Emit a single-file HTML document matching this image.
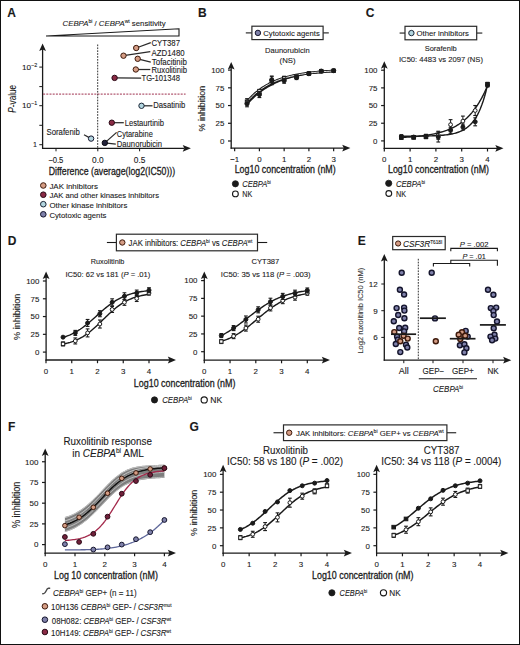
<!DOCTYPE html>
<html><head><meta charset="utf-8"><title>Figure</title>
<style>html,body{margin:0;padding:0;background:#fff;}svg{display:block;}
text{stroke:#1a1a1a;stroke-width:0.1px;}</style></head>
<body><svg width="520" height="645" viewBox="0 0 520 645" font-family='"Liberation Sans", sans-serif' fill="#1a1a1a">
<rect x="0" y="0" width="520" height="645" fill="#fff"/>
<rect x="0.5" y="0.5" width="519" height="644" fill="none" stroke="#111" stroke-width="1.0"/>
<text x="7.2" y="17" font-size="12" font-weight="bold">A</text>
<text x="62.6" y="25.8" font-size="8.05" textLength="103" lengthAdjust="spacingAndGlyphs"><tspan font-style="italic">CEBPA</tspan><tspan baseline-shift="3" font-size="5.2">bi</tspan> / <tspan font-style="italic">CEBPA</tspan><tspan baseline-shift="3" font-size="5.2">wt</tspan> sensitivity</text>
<path d="M46 36 L179 28.8 L179 36 Z" fill="#fff" stroke="#1a1a1a" stroke-width="1.1" stroke-linejoin="miter"/>
<line x1="42.6" y1="148.9" x2="42.6" y2="49" stroke="#1a1a1a" stroke-width="1.3"/>
<path d="M42.6 43.5 L46 51 L42.6 49.4 L39.2 51 Z" fill="#1a1a1a"/>
<line x1="39.3" y1="67.1" x2="42.6" y2="67.1" stroke="#1a1a1a" stroke-width="1"/>
<line x1="39.3" y1="86.6" x2="42.6" y2="86.6" stroke="#1a1a1a" stroke-width="1"/>
<line x1="39.3" y1="105.7" x2="42.6" y2="105.7" stroke="#1a1a1a" stroke-width="1"/>
<line x1="39.3" y1="125.3" x2="42.6" y2="125.3" stroke="#1a1a1a" stroke-width="1"/>
<line x1="39.3" y1="144.7" x2="42.6" y2="144.7" stroke="#1a1a1a" stroke-width="1"/>
<text x="22" y="69.8" font-size="7.95" textLength="15.2" lengthAdjust="spacingAndGlyphs">10<tspan baseline-shift="3.2" font-size="5.2">−2</tspan></text>
<text x="22" y="108.4" font-size="7.95" textLength="15.2" lengthAdjust="spacingAndGlyphs">10<tspan baseline-shift="3.2" font-size="5.2">−1</tspan></text>
<text x="33" y="147.4" font-size="7.95" textLength="4" lengthAdjust="spacingAndGlyphs">1</text>
<text x="0" y="0" font-size="10.0" textLength="27.9" lengthAdjust="spacingAndGlyphs" transform="translate(15.6 112.7) rotate(-90)"><tspan font-style="italic">P</tspan>-value</text>
<line x1="42" y1="148.3" x2="184" y2="148.3" stroke="#1a1a1a" stroke-width="1.3"/>
<path d="M190.9 148.3 L182.7 144.9 L184.3 148.3 L182.7 151.7 Z" fill="#1a1a1a"/>
<line x1="56" y1="148.3" x2="56" y2="151.3" stroke="#1a1a1a" stroke-width="1"/>
<line x1="97.8" y1="148.3" x2="97.8" y2="151.3" stroke="#1a1a1a" stroke-width="1"/>
<line x1="139.6" y1="148.3" x2="139.6" y2="151.3" stroke="#1a1a1a" stroke-width="1"/>
<text x="48.2" y="162.6" font-size="8.6" textLength="15.2" lengthAdjust="spacingAndGlyphs">−0.5</text>
<text x="92" y="162.6" font-size="8.6" textLength="11.6" lengthAdjust="spacingAndGlyphs">0.0</text>
<text x="133.8" y="162.6" font-size="8.6" textLength="11.6" lengthAdjust="spacingAndGlyphs">0.5</text>
<text x="48.8" y="175.3" font-size="11.2" textLength="126.4" lengthAdjust="spacingAndGlyphs" style="stroke-width:0.3px">Difference (average(log2(IC50)))</text>
<line x1="97.7" y1="44.5" x2="97.7" y2="148.3" stroke="#1a1a1a" stroke-width="0.9" stroke-dasharray="1.7 1.2"/>
<line x1="43.1" y1="94.1" x2="185.6" y2="94.1" stroke="#9e2f4e" stroke-width="1.0" stroke-dasharray="2 1.2"/>
<line x1="136.2" y1="48" x2="150.8" y2="42.6" stroke="#2a2a2a" stroke-width="1.25"/>
<line x1="123.5" y1="55.7" x2="150.3" y2="51.6" stroke="#2a2a2a" stroke-width="1.25"/>
<line x1="137.7" y1="58.8" x2="150.8" y2="62.2" stroke="#2a2a2a" stroke-width="1.25"/>
<line x1="135.8" y1="69.5" x2="150.3" y2="69.5" stroke="#2a2a2a" stroke-width="1.25"/>
<line x1="114.6" y1="77.9" x2="141.2" y2="78.2" stroke="#2a2a2a" stroke-width="1.25"/>
<line x1="141.5" y1="105.8" x2="152.5" y2="105.8" stroke="#2a2a2a" stroke-width="1.25"/>
<line x1="111.8" y1="122.7" x2="123.8" y2="122.7" stroke="#2a2a2a" stroke-width="1.25"/>
<line x1="104.8" y1="142.9" x2="116.6" y2="132.4" stroke="#2a2a2a" stroke-width="1.25"/>
<line x1="104.8" y1="142.9" x2="115.8" y2="144.2" stroke="#2a2a2a" stroke-width="1.25"/>
<line x1="84" y1="134.8" x2="91.1" y2="138.6" stroke="#2a2a2a" stroke-width="1.25"/>
<circle cx="136.2" cy="48" r="2.7" fill="#d49c84" stroke="#3e1a0c" stroke-width="1.0"/>
<circle cx="123.5" cy="55.7" r="2.7" fill="#d49c84" stroke="#3e1a0c" stroke-width="1.0"/>
<circle cx="137.7" cy="58.8" r="2.7" fill="#d49c84" stroke="#3e1a0c" stroke-width="1.0"/>
<circle cx="135.8" cy="69.5" r="2.7" fill="#d49c84" stroke="#3e1a0c" stroke-width="1.0"/>
<circle cx="114.6" cy="77.9" r="2.7" fill="#8a2a45" stroke="#2a0a16" stroke-width="1.0"/>
<circle cx="141.5" cy="105.8" r="2.7" fill="#b2d5df" stroke="#1a2636" stroke-width="1.0"/>
<circle cx="111.8" cy="122.7" r="2.7" fill="#8a2a45" stroke="#2a0a16" stroke-width="1.0"/>
<circle cx="104.8" cy="142.9" r="2.7" fill="#22223a" stroke="#0a0a14" stroke-width="1.0"/>
<circle cx="91.1" cy="138.6" r="2.7" fill="#b2d5df" stroke="#14142c" stroke-width="1.0"/>
<text x="151.5" y="46.43" font-size="8.15" textLength="28.5" lengthAdjust="spacingAndGlyphs">CYT387</text>
<text x="151.5" y="56.13" font-size="8.15" textLength="33.1" lengthAdjust="spacingAndGlyphs">AZD1480</text>
<text x="151.8" y="64.53" font-size="8.15" textLength="35.1" lengthAdjust="spacingAndGlyphs">Tofacitinib</text>
<text x="151.5" y="72.63" font-size="8.15" textLength="35.4" lengthAdjust="spacingAndGlyphs">Ruxolitinib</text>
<text x="141.5" y="81.43" font-size="8.15" textLength="38.5" lengthAdjust="spacingAndGlyphs">TG-101348</text>
<text x="153.3" y="108.23" font-size="8.15" textLength="31.9" lengthAdjust="spacingAndGlyphs">Dasatinib</text>
<text x="124.7" y="125.63" font-size="8.15" textLength="39.3" lengthAdjust="spacingAndGlyphs">Lestaurtinib</text>
<text x="116.8" y="136.93" font-size="8.15" textLength="36" lengthAdjust="spacingAndGlyphs">Cytarabine</text>
<text x="116.8" y="146.83" font-size="8.15" textLength="45.2" lengthAdjust="spacingAndGlyphs">Daunorubicin</text>
<text x="46.5" y="134.93" font-size="8.15" textLength="33.3" lengthAdjust="spacingAndGlyphs">Sorafenib</text>
<circle cx="43.3" cy="185.5" r="2.8" fill="#d49c84" stroke="#3e1a0c" stroke-width="1.0"/>
<text x="49.4" y="188.96" font-size="7.95" textLength="48.6" lengthAdjust="spacingAndGlyphs">JAK inhibitors</text>
<circle cx="43.3" cy="194.7" r="2.8" fill="#8a2a45" stroke="#2a0a16" stroke-width="1.0"/>
<text x="49.4" y="198.16" font-size="7.95" textLength="109.6" lengthAdjust="spacingAndGlyphs">JAK and other kinases inhibitors</text>
<circle cx="43.3" cy="204.2" r="2.8" fill="#b2d5df" stroke="#1a2636" stroke-width="1.0"/>
<text x="49.4" y="207.66" font-size="7.95" textLength="78" lengthAdjust="spacingAndGlyphs">Other kinase inhibitors</text>
<circle cx="43.3" cy="214.3" r="2.8" fill="#7f81aa" stroke="#14142c" stroke-width="1.0"/>
<text x="49.4" y="217.76" font-size="7.95" textLength="57" lengthAdjust="spacingAndGlyphs">Cytotoxic agents</text>
<text x="198" y="16.8" font-size="12" font-weight="bold">B</text>
<line x1="245.8" y1="32.9" x2="251.9" y2="32.9" stroke="#1a1a1a" stroke-width="1.1"/>
<line x1="323.1" y1="32.9" x2="328.8" y2="32.9" stroke="#1a1a1a" stroke-width="1.1"/>
<rect x="251.9" y="26.2" width="71.2" height="13.4" fill="#fff" stroke="#2a2a2a" stroke-width="1.2"/>
<circle cx="257.9" cy="32.9" r="2.7" fill="#7f81aa" stroke="#14142c" stroke-width="1.0"/>
<text x="263.3" y="35.8" font-size="8.05" textLength="56.5" lengthAdjust="spacingAndGlyphs">Cytotoxic agents</text>
<text x="265" y="53.3" font-size="8.05" textLength="44.6" lengthAdjust="spacingAndGlyphs">Daunorubicin</text>
<text x="279.6" y="63.3" font-size="8.05" textLength="16" lengthAdjust="spacingAndGlyphs">(NS)</text>
<line x1="231.2" y1="148.7" x2="231.2" y2="67.1" stroke="#1a1a1a" stroke-width="1.3"/>
<path d="M231.2 62.1 L234.6 69.6 L231.2 68 L227.8 69.6 Z" fill="#1a1a1a"/>
<line x1="230.6" y1="148.1" x2="345.4" y2="148.1" stroke="#1a1a1a" stroke-width="1.3"/>
<path d="M350.4 148.1 L342.2 144.7 L343.8 148.1 L342.2 151.5 Z" fill="#1a1a1a"/>
<line x1="228" y1="141" x2="231.2" y2="141" stroke="#1a1a1a" stroke-width="1.2"/>
<text x="224.4" y="143.84" font-size="7.9" text-anchor="end">0</text>
<line x1="228" y1="123.28" x2="231.2" y2="123.28" stroke="#1a1a1a" stroke-width="1.2"/>
<text x="224.4" y="126.12" font-size="7.9" text-anchor="end">25</text>
<line x1="228" y1="105.55" x2="231.2" y2="105.55" stroke="#1a1a1a" stroke-width="1.2"/>
<text x="224.4" y="108.39" font-size="7.9" text-anchor="end">50</text>
<line x1="228" y1="87.83" x2="231.2" y2="87.83" stroke="#1a1a1a" stroke-width="1.2"/>
<text x="224.4" y="90.67" font-size="7.9" text-anchor="end">75</text>
<line x1="228" y1="70.1" x2="231.2" y2="70.1" stroke="#1a1a1a" stroke-width="1.2"/>
<text x="224.4" y="72.94" font-size="7.9" text-anchor="end">100</text>
<line x1="234.65" y1="148.1" x2="234.65" y2="151.3" stroke="#1a1a1a" stroke-width="1.2"/>
<text x="234.65" y="162.04" font-size="7.9" text-anchor="middle">−1</text>
<line x1="259.4" y1="148.1" x2="259.4" y2="151.3" stroke="#1a1a1a" stroke-width="1.2"/>
<text x="259.4" y="162.04" font-size="7.9" text-anchor="middle">0</text>
<line x1="284.15" y1="148.1" x2="284.15" y2="151.3" stroke="#1a1a1a" stroke-width="1.2"/>
<text x="284.15" y="162.04" font-size="7.9" text-anchor="middle">1</text>
<line x1="308.9" y1="148.1" x2="308.9" y2="151.3" stroke="#1a1a1a" stroke-width="1.2"/>
<text x="308.9" y="162.04" font-size="7.9" text-anchor="middle">2</text>
<line x1="333.65" y1="148.1" x2="333.65" y2="151.3" stroke="#1a1a1a" stroke-width="1.2"/>
<text x="333.65" y="162.04" font-size="7.9" text-anchor="middle">3</text>
<text x="0" y="0" font-size="9.4" textLength="45.5" lengthAdjust="spacingAndGlyphs" transform="translate(205.1 131.4) rotate(-90)">% inhibition</text>
<text x="234.7" y="173.3" font-size="10.8" textLength="101" lengthAdjust="spacingAndGlyphs" style="stroke-width:0.3px">Log10 concentration (nM)</text>
<path d="M247.02 104.11 L248.47 102.46 L249.91 100.9 L251.36 99.4 L252.8 97.98 L254.24 96.62 L255.69 95.32 L257.13 94.09 L258.57 92.91 L260.02 91.79 L261.46 90.72 L262.91 89.7 L264.35 88.73 L265.79 87.8 L267.24 86.92 L268.68 86.08 L270.12 85.28 L271.57 84.51 L273.01 83.79 L274.46 83.09 L275.9 82.43 L277.34 81.8 L278.79 81.2 L280.23 80.62 L281.67 80.08 L283.12 79.56 L284.56 79.06 L286.01 78.59 L287.45 78.13 L288.89 77.7 L290.34 77.29 L291.78 76.9 L293.22 76.53 L294.67 76.18 L296.11 75.84 L297.56 75.52 L299 75.21 L300.44 74.92 L301.89 74.64 L303.33 74.37 L304.77 74.12 L306.22 73.87 L307.66 73.64 L309.11 73.42 L310.55 73.22 L311.99 73.02 L313.44 72.83 L314.88 72.64 L316.32 72.47 L317.77 72.31 L319.21 72.15 L320.66 72 L322.1 71.86 L323.54 71.72 L324.99 71.59 L326.43 71.47 L327.88 71.35 L329.32 71.24 L330.76 71.13 L332.21 71.03 L333.65 70.93" fill="none" stroke="#1a1a1a" stroke-width="2.0" stroke-linejoin="round"/>
<path d="M247.02 101.81 L248.47 100.18 L249.91 98.63 L251.36 97.16 L252.8 95.76 L254.24 94.43 L255.69 93.18 L257.13 91.98 L258.57 90.85 L260.02 89.77 L261.46 88.75 L262.91 87.78 L264.35 86.86 L265.79 85.98 L267.24 85.15 L268.68 84.36 L270.12 83.62 L271.57 82.91 L273.01 82.23 L274.46 81.59 L275.9 80.99 L277.34 80.41 L278.79 79.86 L280.23 79.34 L281.67 78.85 L283.12 78.38 L284.56 77.94 L286.01 77.52 L287.45 77.12 L288.89 76.74 L290.34 76.37 L291.78 76.03 L293.22 75.71 L294.67 75.4 L296.11 75.11 L297.56 74.83 L299 74.56 L300.44 74.31 L301.89 74.08 L303.33 73.85 L304.77 73.64 L306.22 73.43 L307.66 73.24 L309.11 73.06 L310.55 72.88 L311.99 72.72 L313.44 72.56 L314.88 72.41 L316.32 72.27 L317.77 72.14 L319.21 72.01 L320.66 71.89 L322.1 71.77 L323.54 71.67 L324.99 71.56 L326.43 71.46 L327.88 71.37 L329.32 71.28 L330.76 71.2 L332.21 71.12 L333.65 71.04" fill="none" stroke="#1a1a1a" stroke-width="2.8" stroke-linejoin="round"/>
<path d="M247.02 101.81 L248.47 100.18 L249.91 98.63 L251.36 97.16 L252.8 95.76 L254.24 94.43 L255.69 93.18 L257.13 91.98 L258.57 90.85 L260.02 89.77 L261.46 88.75 L262.91 87.78 L264.35 86.86 L265.79 85.98 L267.24 85.15 L268.68 84.36 L270.12 83.62 L271.57 82.91 L273.01 82.23 L274.46 81.59 L275.9 80.99 L277.34 80.41 L278.79 79.86 L280.23 79.34 L281.67 78.85 L283.12 78.38 L284.56 77.94 L286.01 77.52 L287.45 77.12 L288.89 76.74 L290.34 76.37 L291.78 76.03 L293.22 75.71 L294.67 75.4 L296.11 75.11 L297.56 74.83 L299 74.56 L300.44 74.31 L301.89 74.08 L303.33 73.85 L304.77 73.64 L306.22 73.43 L307.66 73.24 L309.11 73.06 L310.55 72.88 L311.99 72.72 L313.44 72.56 L314.88 72.41 L316.32 72.27 L317.77 72.14 L319.21 72.01 L320.66 71.89 L322.1 71.77 L323.54 71.67 L324.99 71.56 L326.43 71.46 L327.88 71.37 L329.32 71.28 L330.76 71.2 L332.21 71.12 L333.65 71.04" fill="none" stroke="#fff" stroke-width="0.9" />
<line x1="247.02" y1="98.65" x2="247.02" y2="104.65" stroke="#1a1a1a" stroke-width="1.0"/>
<line x1="245.12" y1="98.65" x2="248.92" y2="98.65" stroke="#1a1a1a" stroke-width="1.1"/>
<line x1="245.12" y1="104.65" x2="248.92" y2="104.65" stroke="#1a1a1a" stroke-width="1.1"/>
<line x1="259.4" y1="89.37" x2="259.4" y2="93.37" stroke="#1a1a1a" stroke-width="1.0"/>
<line x1="257.5" y1="89.37" x2="261.3" y2="89.37" stroke="#1a1a1a" stroke-width="1.1"/>
<line x1="257.5" y1="93.37" x2="261.3" y2="93.37" stroke="#1a1a1a" stroke-width="1.1"/>
<line x1="271.77" y1="76.74" x2="271.77" y2="84.74" stroke="#1a1a1a" stroke-width="1.0"/>
<line x1="269.88" y1="76.74" x2="273.67" y2="76.74" stroke="#1a1a1a" stroke-width="1.1"/>
<line x1="269.88" y1="84.74" x2="273.67" y2="84.74" stroke="#1a1a1a" stroke-width="1.1"/>
<line x1="284.15" y1="76.25" x2="284.15" y2="80.25" stroke="#1a1a1a" stroke-width="1.0"/>
<line x1="282.25" y1="76.25" x2="286.05" y2="76.25" stroke="#1a1a1a" stroke-width="1.1"/>
<line x1="282.25" y1="80.25" x2="286.05" y2="80.25" stroke="#1a1a1a" stroke-width="1.1"/>
<line x1="296.52" y1="74.98" x2="296.52" y2="77.98" stroke="#1a1a1a" stroke-width="1.0"/>
<line x1="294.62" y1="74.98" x2="298.42" y2="74.98" stroke="#1a1a1a" stroke-width="1.1"/>
<line x1="294.62" y1="77.98" x2="298.42" y2="77.98" stroke="#1a1a1a" stroke-width="1.1"/>
<line x1="308.9" y1="72.43" x2="308.9" y2="74.43" stroke="#1a1a1a" stroke-width="1.0"/>
<line x1="307" y1="72.43" x2="310.8" y2="72.43" stroke="#1a1a1a" stroke-width="1.1"/>
<line x1="307" y1="74.43" x2="310.8" y2="74.43" stroke="#1a1a1a" stroke-width="1.1"/>
<rect x="245.32" y="99.95" width="3.4" height="3.4" fill="#fff" stroke="#1a1a1a" stroke-width="1"/>
<rect x="257.7" y="89.67" width="3.4" height="3.4" fill="#fff" stroke="#1a1a1a" stroke-width="1"/>
<rect x="270.07" y="79.04" width="3.4" height="3.4" fill="#fff" stroke="#1a1a1a" stroke-width="1"/>
<rect x="282.45" y="76.55" width="3.4" height="3.4" fill="#fff" stroke="#1a1a1a" stroke-width="1"/>
<rect x="294.82" y="74.78" width="3.4" height="3.4" fill="#fff" stroke="#1a1a1a" stroke-width="1"/>
<rect x="307.2" y="71.73" width="3.4" height="3.4" fill="#fff" stroke="#1a1a1a" stroke-width="1"/>
<rect x="319.57" y="69.46" width="3.4" height="3.4" fill="#fff" stroke="#1a1a1a" stroke-width="1"/>
<rect x="331.95" y="69.11" width="3.4" height="3.4" fill="#fff" stroke="#1a1a1a" stroke-width="1"/>
<line x1="247.02" y1="100.78" x2="247.02" y2="106.78" stroke="#1a1a1a" stroke-width="1.0"/>
<line x1="245.12" y1="100.78" x2="248.92" y2="100.78" stroke="#1a1a1a" stroke-width="1.1"/>
<line x1="245.12" y1="106.78" x2="248.92" y2="106.78" stroke="#1a1a1a" stroke-width="1.1"/>
<line x1="259.4" y1="91.56" x2="259.4" y2="97.56" stroke="#1a1a1a" stroke-width="1.0"/>
<line x1="257.5" y1="91.56" x2="261.3" y2="91.56" stroke="#1a1a1a" stroke-width="1.1"/>
<line x1="257.5" y1="97.56" x2="261.3" y2="97.56" stroke="#1a1a1a" stroke-width="1.1"/>
<line x1="271.77" y1="76.03" x2="271.77" y2="84.03" stroke="#1a1a1a" stroke-width="1.0"/>
<line x1="269.88" y1="76.03" x2="273.67" y2="76.03" stroke="#1a1a1a" stroke-width="1.1"/>
<line x1="269.88" y1="84.03" x2="273.67" y2="84.03" stroke="#1a1a1a" stroke-width="1.1"/>
<line x1="284.15" y1="78.24" x2="284.15" y2="83.24" stroke="#1a1a1a" stroke-width="1.0"/>
<line x1="282.25" y1="78.24" x2="286.05" y2="78.24" stroke="#1a1a1a" stroke-width="1.1"/>
<line x1="282.25" y1="83.24" x2="286.05" y2="83.24" stroke="#1a1a1a" stroke-width="1.1"/>
<line x1="296.52" y1="75.54" x2="296.52" y2="79.54" stroke="#1a1a1a" stroke-width="1.0"/>
<line x1="294.62" y1="75.54" x2="298.42" y2="75.54" stroke="#1a1a1a" stroke-width="1.1"/>
<line x1="294.62" y1="79.54" x2="298.42" y2="79.54" stroke="#1a1a1a" stroke-width="1.1"/>
<line x1="308.9" y1="72.15" x2="308.9" y2="75.15" stroke="#1a1a1a" stroke-width="1.0"/>
<line x1="307" y1="72.15" x2="310.8" y2="72.15" stroke="#1a1a1a" stroke-width="1.1"/>
<line x1="307" y1="75.15" x2="310.8" y2="75.15" stroke="#1a1a1a" stroke-width="1.1"/>
<circle cx="247.02" cy="103.78" r="2.1" fill="#1a1a1a" stroke="#1a1a1a" stroke-width="1.0"/>
<circle cx="259.4" cy="94.56" r="2.1" fill="#1a1a1a" stroke="#1a1a1a" stroke-width="1.0"/>
<circle cx="271.77" cy="80.03" r="2.1" fill="#1a1a1a" stroke="#1a1a1a" stroke-width="1.0"/>
<circle cx="284.15" cy="80.74" r="2.1" fill="#1a1a1a" stroke="#1a1a1a" stroke-width="1.0"/>
<circle cx="296.52" cy="77.54" r="2.1" fill="#1a1a1a" stroke="#1a1a1a" stroke-width="1.0"/>
<circle cx="308.9" cy="73.65" r="2.1" fill="#1a1a1a" stroke="#1a1a1a" stroke-width="1.0"/>
<circle cx="321.27" cy="71.16" r="2.1" fill="#1a1a1a" stroke="#1a1a1a" stroke-width="1.0"/>
<circle cx="333.65" cy="70.6" r="2.1" fill="#1a1a1a" stroke="#1a1a1a" stroke-width="1.0"/>
<circle cx="235.4" cy="183.8" r="3.1" fill="#1a1a1a" stroke="#1a1a1a" stroke-width="0.8"/>
<text x="242.3" y="186.7" font-size="8.6" textLength="28.5" lengthAdjust="spacingAndGlyphs"><tspan font-style="italic">CEBPA</tspan><tspan baseline-shift="3" font-size="5.2">bi</tspan></text>
<circle cx="235.4" cy="193.9" r="2.9" fill="#fff" stroke="#1a1a1a" stroke-width="1.1"/>
<text x="242.3" y="196.9" font-size="8.6" textLength="10" lengthAdjust="spacingAndGlyphs">NK</text>
<text x="365.7" y="16.8" font-size="12" font-weight="bold">C</text>
<line x1="399.6" y1="33.05" x2="405" y2="33.05" stroke="#1a1a1a" stroke-width="1.1"/>
<line x1="476.7" y1="33.05" x2="482.3" y2="33.05" stroke="#1a1a1a" stroke-width="1.1"/>
<rect x="405" y="26.3" width="71.7" height="13.5" fill="#fff" stroke="#2a2a2a" stroke-width="1.2"/>
<circle cx="411.4" cy="33.05" r="2.7" fill="#b2d5df" stroke="#1a2636" stroke-width="1.0"/>
<text x="416.6" y="35.95" font-size="8.05" textLength="52.4" lengthAdjust="spacingAndGlyphs">Other inhibitors</text>
<text x="424.65" y="50.5" font-size="8.05" textLength="32.1" lengthAdjust="spacingAndGlyphs">Sorafenib</text>
<text x="399" y="62.4" font-size="8.05" textLength="84" lengthAdjust="spacingAndGlyphs">IC50: 4483 vs 2097 (NS)</text>
<line x1="384.3" y1="148.9" x2="384.3" y2="66.2" stroke="#1a1a1a" stroke-width="1.3"/>
<path d="M384.3 61.2 L387.7 68.7 L384.3 67.1 L380.9 68.7 Z" fill="#1a1a1a"/>
<line x1="383.7" y1="148.3" x2="498.5" y2="148.3" stroke="#1a1a1a" stroke-width="1.3"/>
<path d="M503.5 148.3 L495.3 144.9 L496.9 148.3 L495.3 151.7 Z" fill="#1a1a1a"/>
<line x1="381.1" y1="140.9" x2="384.3" y2="140.9" stroke="#1a1a1a" stroke-width="1.2"/>
<text x="377.5" y="143.74" font-size="7.9" text-anchor="end">0</text>
<line x1="381.1" y1="123.23" x2="384.3" y2="123.23" stroke="#1a1a1a" stroke-width="1.2"/>
<text x="377.5" y="126.07" font-size="7.9" text-anchor="end">25</text>
<line x1="381.1" y1="105.55" x2="384.3" y2="105.55" stroke="#1a1a1a" stroke-width="1.2"/>
<text x="377.5" y="108.39" font-size="7.9" text-anchor="end">50</text>
<line x1="381.1" y1="87.88" x2="384.3" y2="87.88" stroke="#1a1a1a" stroke-width="1.2"/>
<text x="377.5" y="90.72" font-size="7.9" text-anchor="end">75</text>
<line x1="381.1" y1="70.2" x2="384.3" y2="70.2" stroke="#1a1a1a" stroke-width="1.2"/>
<text x="377.5" y="73.04" font-size="7.9" text-anchor="end">100</text>
<line x1="384.3" y1="148.3" x2="384.3" y2="151.5" stroke="#1a1a1a" stroke-width="1.2"/>
<text x="384.3" y="161.64" font-size="7.9" text-anchor="middle">0</text>
<line x1="410.1" y1="148.3" x2="410.1" y2="151.5" stroke="#1a1a1a" stroke-width="1.2"/>
<text x="410.1" y="161.64" font-size="7.9" text-anchor="middle">1</text>
<line x1="435.9" y1="148.3" x2="435.9" y2="151.5" stroke="#1a1a1a" stroke-width="1.2"/>
<text x="435.9" y="161.64" font-size="7.9" text-anchor="middle">2</text>
<line x1="461.7" y1="148.3" x2="461.7" y2="151.5" stroke="#1a1a1a" stroke-width="1.2"/>
<text x="461.7" y="161.64" font-size="7.9" text-anchor="middle">3</text>
<line x1="487.5" y1="148.3" x2="487.5" y2="151.5" stroke="#1a1a1a" stroke-width="1.2"/>
<text x="487.5" y="161.64" font-size="7.9" text-anchor="middle">4</text>
<text x="388" y="173.3" font-size="10.8" textLength="101" lengthAdjust="spacingAndGlyphs" style="stroke-width:0.3px">Log10 concentration (nM)</text>
<path d="M401.35 136.24 L402.79 136.23 L404.23 136.23 L405.66 136.22 L407.1 136.22 L408.53 136.21 L409.97 136.21 L411.4 136.2 L412.84 136.19 L414.28 136.18 L415.71 136.17 L417.15 136.15 L418.58 136.14 L420.02 136.12 L421.45 136.1 L422.89 136.08 L424.33 136.05 L425.76 136.03 L427.2 135.99 L428.63 135.96 L430.07 135.92 L431.5 135.87 L432.94 135.82 L434.38 135.76 L435.81 135.69 L437.25 135.61 L438.68 135.53 L440.12 135.43 L441.56 135.32 L442.99 135.19 L444.43 135.05 L445.86 134.89 L447.3 134.7 L448.73 134.49 L450.17 134.26 L451.61 133.99 L453.04 133.69 L454.48 133.35 L455.91 132.96 L457.35 132.52 L458.78 132.03 L460.22 131.46 L461.66 130.82 L463.09 130.1 L464.53 129.28 L465.96 128.36 L467.4 127.3 L468.83 126.11 L470.27 124.77 L471.71 123.24 L473.14 121.51 L474.58 119.55 L476.01 117.33 L477.45 114.82 L478.89 111.97 L480.32 108.74 L481.76 105.09 L483.19 100.95 L484.63 96.26 L486.06 90.95 L487.5 84.93" fill="none" stroke="#1a1a1a" stroke-width="1.4" stroke-linejoin="round"/>
<path d="M401.35 137.43 L402.79 137.36 L404.23 137.29 L405.66 137.21 L407.1 137.12 L408.53 137.03 L409.97 136.94 L411.4 136.83 L412.84 136.72 L414.28 136.61 L415.71 136.48 L417.15 136.35 L418.58 136.2 L420.02 136.05 L421.45 135.89 L422.89 135.71 L424.33 135.53 L425.76 135.33 L427.2 135.12 L428.63 134.89 L430.07 134.65 L431.5 134.39 L432.94 134.11 L434.38 133.82 L435.81 133.51 L437.25 133.17 L438.68 132.81 L440.12 132.43 L441.56 132.02 L442.99 131.58 L444.43 131.11 L445.86 130.61 L447.3 130.08 L448.73 129.51 L450.17 128.91 L451.61 128.26 L453.04 127.56 L454.48 126.82 L455.91 126.03 L457.35 125.19 L458.78 124.29 L460.22 123.33 L461.66 122.3 L463.09 121.2 L464.53 120.03 L465.96 118.77 L467.4 117.44 L468.83 116.01 L470.27 114.48 L471.71 112.86 L473.14 111.12 L474.58 109.26 L476.01 107.27 L477.45 105.15 L478.89 102.89 L480.32 100.48 L481.76 97.89 L483.19 95.14 L484.63 92.19 L486.06 89.05 L487.5 85.69" fill="none" stroke="#1a1a1a" stroke-width="1.4" stroke-linejoin="round"/>
<line x1="401.35" y1="134.66" x2="401.35" y2="138.66" stroke="#1a1a1a" stroke-width="1.0"/>
<line x1="399.45" y1="134.66" x2="403.25" y2="134.66" stroke="#1a1a1a" stroke-width="1.1"/>
<line x1="399.45" y1="138.66" x2="403.25" y2="138.66" stroke="#1a1a1a" stroke-width="1.1"/>
<line x1="413.66" y1="135.51" x2="413.66" y2="138.51" stroke="#1a1a1a" stroke-width="1.0"/>
<line x1="411.76" y1="135.51" x2="415.56" y2="135.51" stroke="#1a1a1a" stroke-width="1.1"/>
<line x1="411.76" y1="138.51" x2="415.56" y2="138.51" stroke="#1a1a1a" stroke-width="1.1"/>
<line x1="425.97" y1="134.3" x2="425.97" y2="138.3" stroke="#1a1a1a" stroke-width="1.0"/>
<line x1="424.07" y1="134.3" x2="427.87" y2="134.3" stroke="#1a1a1a" stroke-width="1.1"/>
<line x1="424.07" y1="138.3" x2="427.87" y2="138.3" stroke="#1a1a1a" stroke-width="1.1"/>
<line x1="438.27" y1="131.24" x2="438.27" y2="139.24" stroke="#1a1a1a" stroke-width="1.0"/>
<line x1="436.37" y1="131.24" x2="440.17" y2="131.24" stroke="#1a1a1a" stroke-width="1.1"/>
<line x1="436.37" y1="139.24" x2="440.17" y2="139.24" stroke="#1a1a1a" stroke-width="1.1"/>
<line x1="450.58" y1="119.64" x2="450.58" y2="129.64" stroke="#1a1a1a" stroke-width="1.0"/>
<line x1="448.68" y1="119.64" x2="452.48" y2="119.64" stroke="#1a1a1a" stroke-width="1.1"/>
<line x1="448.68" y1="129.64" x2="452.48" y2="129.64" stroke="#1a1a1a" stroke-width="1.1"/>
<line x1="462.89" y1="116.1" x2="462.89" y2="126.1" stroke="#1a1a1a" stroke-width="1.0"/>
<line x1="460.99" y1="116.1" x2="464.79" y2="116.1" stroke="#1a1a1a" stroke-width="1.1"/>
<line x1="460.99" y1="126.1" x2="464.79" y2="126.1" stroke="#1a1a1a" stroke-width="1.1"/>
<line x1="475.19" y1="105.5" x2="475.19" y2="115.5" stroke="#1a1a1a" stroke-width="1.0"/>
<line x1="473.29" y1="105.5" x2="477.09" y2="105.5" stroke="#1a1a1a" stroke-width="1.1"/>
<line x1="473.29" y1="115.5" x2="477.09" y2="115.5" stroke="#1a1a1a" stroke-width="1.1"/>
<line x1="487.5" y1="83.05" x2="487.5" y2="87.05" stroke="#1a1a1a" stroke-width="1.0"/>
<line x1="485.6" y1="83.05" x2="489.4" y2="83.05" stroke="#1a1a1a" stroke-width="1.1"/>
<line x1="485.6" y1="87.05" x2="489.4" y2="87.05" stroke="#1a1a1a" stroke-width="1.1"/>
<circle cx="401.35" cy="136.66" r="1.9" fill="#fff" stroke="#1a1a1a" stroke-width="1.0"/>
<circle cx="413.66" cy="137.01" r="1.9" fill="#fff" stroke="#1a1a1a" stroke-width="1.0"/>
<circle cx="425.97" cy="136.3" r="1.9" fill="#fff" stroke="#1a1a1a" stroke-width="1.0"/>
<circle cx="438.27" cy="135.24" r="1.9" fill="#fff" stroke="#1a1a1a" stroke-width="1.0"/>
<circle cx="450.58" cy="124.64" r="1.9" fill="#fff" stroke="#1a1a1a" stroke-width="1.0"/>
<circle cx="462.89" cy="121.1" r="1.9" fill="#fff" stroke="#1a1a1a" stroke-width="1.0"/>
<circle cx="475.19" cy="110.5" r="1.9" fill="#fff" stroke="#1a1a1a" stroke-width="1.0"/>
<circle cx="487.5" cy="85.05" r="1.9" fill="#fff" stroke="#1a1a1a" stroke-width="1.0"/>
<line x1="401.35" y1="135.37" x2="401.35" y2="139.37" stroke="#1a1a1a" stroke-width="1.0"/>
<line x1="399.45" y1="135.37" x2="403.25" y2="135.37" stroke="#1a1a1a" stroke-width="1.1"/>
<line x1="399.45" y1="139.37" x2="403.25" y2="139.37" stroke="#1a1a1a" stroke-width="1.1"/>
<line x1="413.66" y1="135.87" x2="413.66" y2="138.87" stroke="#1a1a1a" stroke-width="1.0"/>
<line x1="411.76" y1="135.87" x2="415.56" y2="135.87" stroke="#1a1a1a" stroke-width="1.1"/>
<line x1="411.76" y1="138.87" x2="415.56" y2="138.87" stroke="#1a1a1a" stroke-width="1.1"/>
<line x1="425.97" y1="134.66" x2="425.97" y2="138.66" stroke="#1a1a1a" stroke-width="1.0"/>
<line x1="424.07" y1="134.66" x2="427.87" y2="134.66" stroke="#1a1a1a" stroke-width="1.1"/>
<line x1="424.07" y1="138.66" x2="427.87" y2="138.66" stroke="#1a1a1a" stroke-width="1.1"/>
<rect x="399.55" y="135.56" width="3.6" height="3.6" fill="#1a1a1a" stroke="#1a1a1a" stroke-width="1"/>
<rect x="411.86" y="135.56" width="3.6" height="3.6" fill="#1a1a1a" stroke="#1a1a1a" stroke-width="1"/>
<rect x="424.17" y="134.86" width="3.6" height="3.6" fill="#1a1a1a" stroke="#1a1a1a" stroke-width="1"/>
<line x1="438.27" y1="132.01" x2="438.27" y2="142.01" stroke="#1a1a1a" stroke-width="1.0"/>
<line x1="436.37" y1="132.01" x2="440.17" y2="132.01" stroke="#1a1a1a" stroke-width="1.1"/>
<line x1="436.37" y1="142.01" x2="440.17" y2="142.01" stroke="#1a1a1a" stroke-width="1.1"/>
<line x1="450.58" y1="127.3" x2="450.58" y2="133.3" stroke="#1a1a1a" stroke-width="1.0"/>
<line x1="448.68" y1="127.3" x2="452.48" y2="127.3" stroke="#1a1a1a" stroke-width="1.1"/>
<line x1="448.68" y1="133.3" x2="452.48" y2="133.3" stroke="#1a1a1a" stroke-width="1.1"/>
<line x1="462.89" y1="124.11" x2="462.89" y2="130.11" stroke="#1a1a1a" stroke-width="1.0"/>
<line x1="460.99" y1="124.11" x2="464.79" y2="124.11" stroke="#1a1a1a" stroke-width="1.1"/>
<line x1="460.99" y1="130.11" x2="464.79" y2="130.11" stroke="#1a1a1a" stroke-width="1.1"/>
<line x1="475.19" y1="117.81" x2="475.19" y2="125.81" stroke="#1a1a1a" stroke-width="1.0"/>
<line x1="473.29" y1="117.81" x2="477.09" y2="117.81" stroke="#1a1a1a" stroke-width="1.1"/>
<line x1="473.29" y1="125.81" x2="477.09" y2="125.81" stroke="#1a1a1a" stroke-width="1.1"/>
<circle cx="438.27" cy="137.01" r="2" fill="#1a1a1a" stroke="#1a1a1a" stroke-width="1.0"/>
<circle cx="450.58" cy="130.3" r="2" fill="#1a1a1a" stroke="#1a1a1a" stroke-width="1.0"/>
<circle cx="462.89" cy="127.11" r="2" fill="#1a1a1a" stroke="#1a1a1a" stroke-width="1.0"/>
<circle cx="475.19" cy="121.81" r="2" fill="#1a1a1a" stroke="#1a1a1a" stroke-width="1.0"/>
<line x1="487.5" y1="82.34" x2="487.5" y2="86.34" stroke="#1a1a1a" stroke-width="1.0"/>
<line x1="485.6" y1="82.34" x2="489.4" y2="82.34" stroke="#1a1a1a" stroke-width="1.1"/>
<line x1="485.6" y1="86.34" x2="489.4" y2="86.34" stroke="#1a1a1a" stroke-width="1.1"/>
<rect x="485.7" y="82.54" width="3.6" height="3.6" fill="#1a1a1a" stroke="#1a1a1a" stroke-width="1"/>
<circle cx="388.7" cy="183.3" r="3.1" fill="#1a1a1a" stroke="#1a1a1a" stroke-width="0.8"/>
<text x="395.9" y="186.6" font-size="8.6" textLength="29.1" lengthAdjust="spacingAndGlyphs"><tspan font-style="italic">CEBPA</tspan><tspan baseline-shift="3" font-size="5.2">bi</tspan></text>
<circle cx="388.8" cy="193.5" r="2.9" fill="#fff" stroke="#1a1a1a" stroke-width="1.1"/>
<text x="395.9" y="196.9" font-size="8.6" textLength="10.1" lengthAdjust="spacingAndGlyphs">NK</text>
<text x="7.7" y="244.8" font-size="12" font-weight="bold">D</text>
<line x1="106.9" y1="242.5" x2="116.4" y2="242.5" stroke="#1a1a1a" stroke-width="1.1"/>
<line x1="257.5" y1="242.5" x2="267.2" y2="242.5" stroke="#1a1a1a" stroke-width="1.1"/>
<rect x="116.4" y="234.2" width="141.1" height="16.6" fill="#fff" stroke="#2a2a2a" stroke-width="1.2"/>
<circle cx="122.3" cy="242.5" r="2.7" fill="#d49c84" stroke="#3e1a0c" stroke-width="1.0"/>
<text x="128.6" y="246.36" font-size="8.5" textLength="123.7" lengthAdjust="spacingAndGlyphs">JAK inhibitors: <tspan font-style="italic">CEBPA</tspan><tspan baseline-shift="3" font-size="5.2">bi</tspan> vs <tspan font-style="italic">CEBPA</tspan><tspan baseline-shift="3" font-size="5.2">wt</tspan></text>
<text x="90.8" y="264.06" font-size="7.95" textLength="33.6" lengthAdjust="spacingAndGlyphs">Ruxolitinib</text>
<text x="65.4" y="276.96" font-size="7.95" textLength="85" lengthAdjust="spacingAndGlyphs">IC50: 62 vs 181 (<tspan font-style="italic">P</tspan> = .01)</text>
<text x="251.45" y="264.06" font-size="7.95" textLength="27.9" lengthAdjust="spacingAndGlyphs">CYT387</text>
<text x="220.8" y="276.96" font-size="7.95" textLength="89.8" lengthAdjust="spacingAndGlyphs">IC50: 35 vs 118 (<tspan font-style="italic">P</tspan> = .003)</text>
<line x1="46.1" y1="360.6" x2="46.1" y2="276.5" stroke="#1a1a1a" stroke-width="1.3"/>
<path d="M46.1 271.5 L49.5 279 L46.1 277.4 L42.7 279 Z" fill="#1a1a1a"/>
<line x1="45.5" y1="360" x2="171" y2="360" stroke="#1a1a1a" stroke-width="1.3"/>
<path d="M176 360 L167.8 356.6 L169.4 360 L167.8 363.4 Z" fill="#1a1a1a"/>
<line x1="42.9" y1="352.1" x2="46.1" y2="352.1" stroke="#1a1a1a" stroke-width="1.2"/>
<text x="39.3" y="354.94" font-size="7.9" text-anchor="end">0</text>
<line x1="42.9" y1="334.33" x2="46.1" y2="334.33" stroke="#1a1a1a" stroke-width="1.2"/>
<text x="39.3" y="337.17" font-size="7.9" text-anchor="end">25</text>
<line x1="42.9" y1="316.55" x2="46.1" y2="316.55" stroke="#1a1a1a" stroke-width="1.2"/>
<text x="39.3" y="319.39" font-size="7.9" text-anchor="end">50</text>
<line x1="42.9" y1="298.78" x2="46.1" y2="298.78" stroke="#1a1a1a" stroke-width="1.2"/>
<text x="39.3" y="301.62" font-size="7.9" text-anchor="end">75</text>
<line x1="42.9" y1="281" x2="46.1" y2="281" stroke="#1a1a1a" stroke-width="1.2"/>
<text x="39.3" y="283.84" font-size="7.9" text-anchor="end">100</text>
<line x1="46" y1="360" x2="46" y2="363.2" stroke="#1a1a1a" stroke-width="1.2"/>
<text x="46" y="374.44" font-size="7.9" text-anchor="middle">0</text>
<line x1="71.75" y1="360" x2="71.75" y2="363.2" stroke="#1a1a1a" stroke-width="1.2"/>
<text x="71.75" y="374.44" font-size="7.9" text-anchor="middle">1</text>
<line x1="97.5" y1="360" x2="97.5" y2="363.2" stroke="#1a1a1a" stroke-width="1.2"/>
<text x="97.5" y="374.44" font-size="7.9" text-anchor="middle">2</text>
<line x1="123.25" y1="360" x2="123.25" y2="363.2" stroke="#1a1a1a" stroke-width="1.2"/>
<text x="123.25" y="374.44" font-size="7.9" text-anchor="middle">3</text>
<line x1="149" y1="360" x2="149" y2="363.2" stroke="#1a1a1a" stroke-width="1.2"/>
<text x="149" y="374.44" font-size="7.9" text-anchor="middle">4</text>
<text x="0" y="0" font-size="9.9" textLength="46.3" lengthAdjust="spacingAndGlyphs" transform="translate(20.1 339.9) rotate(-90)">% inhibition</text>
<path d="M63.02 337.41 L64.45 336.97 L65.89 336.48 L67.32 335.96 L68.75 335.4 L70.19 334.79 L71.62 334.14 L73.05 333.45 L74.48 332.71 L75.92 331.92 L77.35 331.08 L78.78 330.19 L80.22 329.26 L81.65 328.28 L83.08 327.25 L84.52 326.18 L85.95 325.07 L87.38 323.91 L88.81 322.72 L90.25 321.51 L91.68 320.26 L93.11 319 L94.55 317.71 L95.98 316.42 L97.41 315.13 L98.85 313.84 L100.28 312.56 L101.71 311.29 L103.14 310.05 L104.58 308.83 L106.01 307.64 L107.44 306.48 L108.88 305.36 L110.31 304.29 L111.74 303.26 L113.18 302.28 L114.61 301.34 L116.04 300.45 L117.47 299.61 L118.91 298.82 L120.34 298.07 L121.77 297.38 L123.21 296.72 L124.64 296.12 L126.07 295.55 L127.51 295.03 L128.94 294.54 L130.37 294.09 L131.8 293.67 L133.24 293.29 L134.67 292.94 L136.1 292.61 L137.54 292.31 L138.97 292.04 L140.4 291.79 L141.84 291.56 L143.27 291.35 L144.7 291.16 L146.13 290.98 L147.57 290.82 L149 290.67" fill="none" stroke="#1a1a1a" stroke-width="1.4" stroke-linejoin="round"/>
<path d="M63.02 344.15 L64.45 343.86 L65.89 343.53 L67.32 343.17 L68.75 342.78 L70.19 342.36 L71.62 341.9 L73.05 341.39 L74.48 340.84 L75.92 340.25 L77.35 339.61 L78.78 338.92 L80.22 338.18 L81.65 337.39 L83.08 336.54 L84.52 335.63 L85.95 334.67 L87.38 333.65 L88.81 332.58 L90.25 331.46 L91.68 330.28 L93.11 329.06 L94.55 327.79 L95.98 326.48 L97.41 325.14 L98.85 323.77 L100.28 322.38 L101.71 320.98 L103.14 319.57 L104.58 318.16 L106.01 316.76 L107.44 315.38 L108.88 314.01 L110.31 312.68 L111.74 311.38 L113.18 310.12 L114.61 308.91 L116.04 307.75 L117.47 306.63 L118.91 305.57 L120.34 304.57 L121.77 303.62 L123.21 302.73 L124.64 301.89 L126.07 301.11 L127.51 300.38 L128.94 299.7 L130.37 299.08 L131.8 298.49 L133.24 297.96 L134.67 297.46 L136.1 297.01 L137.54 296.59 L138.97 296.21 L140.4 295.86 L141.84 295.54 L143.27 295.25 L144.7 294.98 L146.13 294.74 L147.57 294.52 L149 294.32" fill="none" stroke="#1a1a1a" stroke-width="1.4" stroke-linejoin="round"/>
<line x1="63.02" y1="341.92" x2="63.02" y2="345.92" stroke="#1a1a1a" stroke-width="1.0"/>
<line x1="61.12" y1="341.92" x2="64.92" y2="341.92" stroke="#1a1a1a" stroke-width="1.1"/>
<line x1="61.12" y1="345.92" x2="64.92" y2="345.92" stroke="#1a1a1a" stroke-width="1.1"/>
<line x1="75.3" y1="337.94" x2="75.3" y2="343.94" stroke="#1a1a1a" stroke-width="1.0"/>
<line x1="73.4" y1="337.94" x2="77.2" y2="337.94" stroke="#1a1a1a" stroke-width="1.1"/>
<line x1="73.4" y1="343.94" x2="77.2" y2="343.94" stroke="#1a1a1a" stroke-width="1.1"/>
<line x1="87.59" y1="328.9" x2="87.59" y2="336.9" stroke="#1a1a1a" stroke-width="1.0"/>
<line x1="85.69" y1="328.9" x2="89.49" y2="328.9" stroke="#1a1a1a" stroke-width="1.1"/>
<line x1="85.69" y1="336.9" x2="89.49" y2="336.9" stroke="#1a1a1a" stroke-width="1.1"/>
<line x1="99.87" y1="320.02" x2="99.87" y2="328.02" stroke="#1a1a1a" stroke-width="1.0"/>
<line x1="97.97" y1="320.02" x2="101.77" y2="320.02" stroke="#1a1a1a" stroke-width="1.1"/>
<line x1="97.97" y1="328.02" x2="101.77" y2="328.02" stroke="#1a1a1a" stroke-width="1.1"/>
<line x1="112.15" y1="306.44" x2="112.15" y2="312.44" stroke="#1a1a1a" stroke-width="1.0"/>
<line x1="110.25" y1="306.44" x2="114.05" y2="306.44" stroke="#1a1a1a" stroke-width="1.1"/>
<line x1="110.25" y1="312.44" x2="114.05" y2="312.44" stroke="#1a1a1a" stroke-width="1.1"/>
<line x1="124.43" y1="299.33" x2="124.43" y2="305.33" stroke="#1a1a1a" stroke-width="1.0"/>
<line x1="122.53" y1="299.33" x2="126.33" y2="299.33" stroke="#1a1a1a" stroke-width="1.1"/>
<line x1="122.53" y1="305.33" x2="126.33" y2="305.33" stroke="#1a1a1a" stroke-width="1.1"/>
<line x1="136.72" y1="295.49" x2="136.72" y2="301.49" stroke="#1a1a1a" stroke-width="1.0"/>
<line x1="134.82" y1="295.49" x2="138.62" y2="295.49" stroke="#1a1a1a" stroke-width="1.1"/>
<line x1="134.82" y1="301.49" x2="138.62" y2="301.49" stroke="#1a1a1a" stroke-width="1.1"/>
<line x1="149" y1="291.09" x2="149" y2="295.09" stroke="#1a1a1a" stroke-width="1.0"/>
<line x1="147.1" y1="291.09" x2="150.9" y2="291.09" stroke="#1a1a1a" stroke-width="1.1"/>
<line x1="147.1" y1="295.09" x2="150.9" y2="295.09" stroke="#1a1a1a" stroke-width="1.1"/>
<rect x="61.32" y="342.22" width="3.4" height="3.4" fill="#fff" stroke="#1a1a1a" stroke-width="1"/>
<circle cx="75.3" cy="340.94" r="1.9" fill="#fff" stroke="#1a1a1a" stroke-width="1.0"/>
<circle cx="87.59" cy="332.9" r="1.9" fill="#fff" stroke="#1a1a1a" stroke-width="1.0"/>
<circle cx="99.87" cy="324.02" r="1.9" fill="#fff" stroke="#1a1a1a" stroke-width="1.0"/>
<circle cx="112.15" cy="309.44" r="1.9" fill="#fff" stroke="#1a1a1a" stroke-width="1.0"/>
<circle cx="124.43" cy="302.33" r="1.9" fill="#fff" stroke="#1a1a1a" stroke-width="1.0"/>
<circle cx="136.72" cy="298.49" r="1.9" fill="#fff" stroke="#1a1a1a" stroke-width="1.0"/>
<circle cx="149" cy="293.09" r="1.9" fill="#fff" stroke="#1a1a1a" stroke-width="1.0"/>
<line x1="75.3" y1="330.4" x2="75.3" y2="335.4" stroke="#1a1a1a" stroke-width="1.0"/>
<line x1="73.4" y1="330.4" x2="77.2" y2="330.4" stroke="#1a1a1a" stroke-width="1.1"/>
<line x1="73.4" y1="335.4" x2="77.2" y2="335.4" stroke="#1a1a1a" stroke-width="1.1"/>
<line x1="87.59" y1="319.45" x2="87.59" y2="326.45" stroke="#1a1a1a" stroke-width="1.0"/>
<line x1="85.69" y1="319.45" x2="89.49" y2="319.45" stroke="#1a1a1a" stroke-width="1.1"/>
<line x1="85.69" y1="326.45" x2="89.49" y2="326.45" stroke="#1a1a1a" stroke-width="1.1"/>
<line x1="99.87" y1="310.71" x2="99.87" y2="316.71" stroke="#1a1a1a" stroke-width="1.0"/>
<line x1="97.97" y1="310.71" x2="101.77" y2="310.71" stroke="#1a1a1a" stroke-width="1.1"/>
<line x1="97.97" y1="316.71" x2="101.77" y2="316.71" stroke="#1a1a1a" stroke-width="1.1"/>
<line x1="112.15" y1="298.83" x2="112.15" y2="305.83" stroke="#1a1a1a" stroke-width="1.0"/>
<line x1="110.25" y1="298.83" x2="114.05" y2="298.83" stroke="#1a1a1a" stroke-width="1.1"/>
<line x1="110.25" y1="305.83" x2="114.05" y2="305.83" stroke="#1a1a1a" stroke-width="1.1"/>
<line x1="124.43" y1="292.79" x2="124.43" y2="299.79" stroke="#1a1a1a" stroke-width="1.0"/>
<line x1="122.53" y1="292.79" x2="126.33" y2="292.79" stroke="#1a1a1a" stroke-width="1.1"/>
<line x1="122.53" y1="299.79" x2="126.33" y2="299.79" stroke="#1a1a1a" stroke-width="1.1"/>
<line x1="136.72" y1="290.09" x2="136.72" y2="296.09" stroke="#1a1a1a" stroke-width="1.0"/>
<line x1="134.82" y1="290.09" x2="138.62" y2="290.09" stroke="#1a1a1a" stroke-width="1.1"/>
<line x1="134.82" y1="296.09" x2="138.62" y2="296.09" stroke="#1a1a1a" stroke-width="1.1"/>
<line x1="149" y1="287.74" x2="149" y2="292.74" stroke="#1a1a1a" stroke-width="1.0"/>
<line x1="147.1" y1="287.74" x2="150.9" y2="287.74" stroke="#1a1a1a" stroke-width="1.1"/>
<line x1="147.1" y1="292.74" x2="150.9" y2="292.74" stroke="#1a1a1a" stroke-width="1.1"/>
<circle cx="63.02" cy="337.17" r="2" fill="#1a1a1a" stroke="#1a1a1a" stroke-width="1.0"/>
<circle cx="75.3" cy="332.9" r="2" fill="#1a1a1a" stroke="#1a1a1a" stroke-width="1.0"/>
<circle cx="87.59" cy="322.95" r="2" fill="#1a1a1a" stroke="#1a1a1a" stroke-width="1.0"/>
<circle cx="99.87" cy="313.71" r="2" fill="#1a1a1a" stroke="#1a1a1a" stroke-width="1.0"/>
<circle cx="112.15" cy="302.33" r="2" fill="#1a1a1a" stroke="#1a1a1a" stroke-width="1.0"/>
<circle cx="124.43" cy="296.29" r="2" fill="#1a1a1a" stroke="#1a1a1a" stroke-width="1.0"/>
<circle cx="136.72" cy="293.09" r="2" fill="#1a1a1a" stroke="#1a1a1a" stroke-width="1.0"/>
<circle cx="149" cy="290.24" r="2" fill="#1a1a1a" stroke="#1a1a1a" stroke-width="1.0"/>
<line x1="204.3" y1="360.7" x2="204.3" y2="276.5" stroke="#1a1a1a" stroke-width="1.3"/>
<path d="M204.3 271.5 L207.7 279 L204.3 277.4 L200.9 279 Z" fill="#1a1a1a"/>
<line x1="203.7" y1="360.1" x2="325" y2="360.1" stroke="#1a1a1a" stroke-width="1.3"/>
<path d="M330 360.1 L321.8 356.7 L323.4 360.1 L321.8 363.5 Z" fill="#1a1a1a"/>
<line x1="201.1" y1="351.7" x2="204.3" y2="351.7" stroke="#1a1a1a" stroke-width="1.2"/>
<text x="197.5" y="354.54" font-size="7.9" text-anchor="end">0</text>
<line x1="201.1" y1="333.93" x2="204.3" y2="333.93" stroke="#1a1a1a" stroke-width="1.2"/>
<text x="197.5" y="336.77" font-size="7.9" text-anchor="end">25</text>
<line x1="201.1" y1="316.15" x2="204.3" y2="316.15" stroke="#1a1a1a" stroke-width="1.2"/>
<text x="197.5" y="318.99" font-size="7.9" text-anchor="end">50</text>
<line x1="201.1" y1="298.38" x2="204.3" y2="298.38" stroke="#1a1a1a" stroke-width="1.2"/>
<text x="197.5" y="301.22" font-size="7.9" text-anchor="end">75</text>
<line x1="201.1" y1="280.6" x2="204.3" y2="280.6" stroke="#1a1a1a" stroke-width="1.2"/>
<text x="197.5" y="283.44" font-size="7.9" text-anchor="end">100</text>
<line x1="204.3" y1="360.1" x2="204.3" y2="363.3" stroke="#1a1a1a" stroke-width="1.2"/>
<text x="204.3" y="374.44" font-size="7.9" text-anchor="middle">0</text>
<line x1="230.05" y1="360.1" x2="230.05" y2="363.3" stroke="#1a1a1a" stroke-width="1.2"/>
<text x="230.05" y="374.44" font-size="7.9" text-anchor="middle">1</text>
<line x1="255.8" y1="360.1" x2="255.8" y2="363.3" stroke="#1a1a1a" stroke-width="1.2"/>
<text x="255.8" y="374.44" font-size="7.9" text-anchor="middle">2</text>
<line x1="281.55" y1="360.1" x2="281.55" y2="363.3" stroke="#1a1a1a" stroke-width="1.2"/>
<text x="281.55" y="374.44" font-size="7.9" text-anchor="middle">3</text>
<line x1="307.3" y1="360.1" x2="307.3" y2="363.3" stroke="#1a1a1a" stroke-width="1.2"/>
<text x="307.3" y="374.44" font-size="7.9" text-anchor="middle">4</text>
<path d="M221.32 335.51 L222.75 334.79 L224.19 334.03 L225.62 333.24 L227.05 332.42 L228.49 331.57 L229.92 330.69 L231.35 329.78 L232.78 328.83 L234.22 327.87 L235.65 326.87 L237.08 325.85 L238.52 324.81 L239.95 323.75 L241.38 322.68 L242.82 321.59 L244.25 320.49 L245.68 319.38 L247.11 318.27 L248.55 317.16 L249.98 316.04 L251.41 314.94 L252.85 313.84 L254.28 312.75 L255.71 311.67 L257.15 310.61 L258.58 309.58 L260.01 308.56 L261.44 307.57 L262.88 306.6 L264.31 305.66 L265.74 304.74 L267.18 303.86 L268.61 303.01 L270.04 302.19 L271.48 301.41 L272.91 300.65 L274.34 299.93 L275.77 299.24 L277.21 298.58 L278.64 297.96 L280.07 297.36 L281.51 296.8 L282.94 296.26 L284.37 295.75 L285.81 295.28 L287.24 294.82 L288.67 294.4 L290.1 294 L291.54 293.62 L292.97 293.27 L294.4 292.93 L295.84 292.62 L297.27 292.33 L298.7 292.06 L300.14 291.8 L301.57 291.56 L303 291.33 L304.43 291.13 L305.87 290.93 L307.3 290.75" fill="none" stroke="#1a1a1a" stroke-width="1.4" stroke-linejoin="round"/>
<path d="M221.32 341.39 L222.75 340.93 L224.19 340.44 L225.62 339.91 L227.05 339.35 L228.49 338.75 L229.92 338.12 L231.35 337.44 L232.78 336.73 L234.22 335.98 L235.65 335.18 L237.08 334.35 L238.52 333.48 L239.95 332.57 L241.38 331.62 L242.82 330.63 L244.25 329.6 L245.68 328.55 L247.11 327.46 L248.55 326.34 L249.98 325.2 L251.41 324.03 L252.85 322.85 L254.28 321.66 L255.71 320.45 L257.15 319.24 L258.58 318.03 L260.01 316.82 L261.44 315.62 L262.88 314.44 L264.31 313.27 L265.74 312.12 L267.18 310.99 L268.61 309.9 L270.04 308.83 L271.48 307.8 L272.91 306.8 L274.34 305.84 L275.77 304.91 L277.21 304.03 L278.64 303.18 L280.07 302.38 L281.51 301.62 L282.94 300.89 L284.37 300.21 L285.81 299.56 L287.24 298.95 L288.67 298.38 L290.1 297.84 L291.54 297.34 L292.97 296.87 L294.4 296.43 L295.84 296.02 L297.27 295.64 L298.7 295.28 L300.14 294.95 L301.57 294.65 L303 294.36 L304.43 294.1 L305.87 293.85 L307.3 293.63" fill="none" stroke="#1a1a1a" stroke-width="1.4" stroke-linejoin="round"/>
<line x1="221.32" y1="339.53" x2="221.32" y2="343.53" stroke="#1a1a1a" stroke-width="1.0"/>
<line x1="219.42" y1="339.53" x2="223.22" y2="339.53" stroke="#1a1a1a" stroke-width="1.1"/>
<line x1="219.42" y1="343.53" x2="223.22" y2="343.53" stroke="#1a1a1a" stroke-width="1.1"/>
<line x1="233.6" y1="333.63" x2="233.6" y2="338.63" stroke="#1a1a1a" stroke-width="1.0"/>
<line x1="231.7" y1="333.63" x2="235.5" y2="333.63" stroke="#1a1a1a" stroke-width="1.1"/>
<line x1="231.7" y1="338.63" x2="235.5" y2="338.63" stroke="#1a1a1a" stroke-width="1.1"/>
<line x1="245.89" y1="325.09" x2="245.89" y2="331.09" stroke="#1a1a1a" stroke-width="1.0"/>
<line x1="243.99" y1="325.09" x2="247.79" y2="325.09" stroke="#1a1a1a" stroke-width="1.1"/>
<line x1="243.99" y1="331.09" x2="247.79" y2="331.09" stroke="#1a1a1a" stroke-width="1.1"/>
<line x1="258.17" y1="316.21" x2="258.17" y2="322.21" stroke="#1a1a1a" stroke-width="1.0"/>
<line x1="256.27" y1="316.21" x2="260.07" y2="316.21" stroke="#1a1a1a" stroke-width="1.1"/>
<line x1="256.27" y1="322.21" x2="260.07" y2="322.21" stroke="#1a1a1a" stroke-width="1.1"/>
<line x1="270.45" y1="304.9" x2="270.45" y2="310.9" stroke="#1a1a1a" stroke-width="1.0"/>
<line x1="268.55" y1="304.9" x2="272.35" y2="304.9" stroke="#1a1a1a" stroke-width="1.1"/>
<line x1="268.55" y1="310.9" x2="272.35" y2="310.9" stroke="#1a1a1a" stroke-width="1.1"/>
<line x1="282.73" y1="297.65" x2="282.73" y2="303.65" stroke="#1a1a1a" stroke-width="1.0"/>
<line x1="280.83" y1="297.65" x2="284.63" y2="297.65" stroke="#1a1a1a" stroke-width="1.1"/>
<line x1="280.83" y1="303.65" x2="284.63" y2="303.65" stroke="#1a1a1a" stroke-width="1.1"/>
<line x1="295.02" y1="294.17" x2="295.02" y2="300.17" stroke="#1a1a1a" stroke-width="1.0"/>
<line x1="293.12" y1="294.17" x2="296.92" y2="294.17" stroke="#1a1a1a" stroke-width="1.1"/>
<line x1="293.12" y1="300.17" x2="296.92" y2="300.17" stroke="#1a1a1a" stroke-width="1.1"/>
<line x1="307.3" y1="291.18" x2="307.3" y2="295.18" stroke="#1a1a1a" stroke-width="1.0"/>
<line x1="305.4" y1="291.18" x2="309.2" y2="291.18" stroke="#1a1a1a" stroke-width="1.1"/>
<line x1="305.4" y1="295.18" x2="309.2" y2="295.18" stroke="#1a1a1a" stroke-width="1.1"/>
<rect x="219.62" y="339.83" width="3.4" height="3.4" fill="#fff" stroke="#1a1a1a" stroke-width="1"/>
<circle cx="233.6" cy="336.13" r="1.9" fill="#fff" stroke="#1a1a1a" stroke-width="1.0"/>
<circle cx="245.89" cy="328.09" r="1.9" fill="#fff" stroke="#1a1a1a" stroke-width="1.0"/>
<circle cx="258.17" cy="319.21" r="1.9" fill="#fff" stroke="#1a1a1a" stroke-width="1.0"/>
<circle cx="270.45" cy="307.9" r="1.9" fill="#fff" stroke="#1a1a1a" stroke-width="1.0"/>
<circle cx="282.73" cy="300.65" r="1.9" fill="#fff" stroke="#1a1a1a" stroke-width="1.0"/>
<circle cx="295.02" cy="297.17" r="1.9" fill="#fff" stroke="#1a1a1a" stroke-width="1.0"/>
<circle cx="307.3" cy="293.18" r="1.9" fill="#fff" stroke="#1a1a1a" stroke-width="1.0"/>
<line x1="221.32" y1="333.56" x2="221.32" y2="337.56" stroke="#1a1a1a" stroke-width="1.0"/>
<line x1="219.42" y1="333.56" x2="223.22" y2="333.56" stroke="#1a1a1a" stroke-width="1.1"/>
<line x1="219.42" y1="337.56" x2="223.22" y2="337.56" stroke="#1a1a1a" stroke-width="1.1"/>
<line x1="233.6" y1="325.59" x2="233.6" y2="330.59" stroke="#1a1a1a" stroke-width="1.0"/>
<line x1="231.7" y1="325.59" x2="235.5" y2="325.59" stroke="#1a1a1a" stroke-width="1.1"/>
<line x1="231.7" y1="330.59" x2="235.5" y2="330.59" stroke="#1a1a1a" stroke-width="1.1"/>
<line x1="245.89" y1="315.99" x2="245.89" y2="322.99" stroke="#1a1a1a" stroke-width="1.0"/>
<line x1="243.99" y1="315.99" x2="247.79" y2="315.99" stroke="#1a1a1a" stroke-width="1.1"/>
<line x1="243.99" y1="322.99" x2="247.79" y2="322.99" stroke="#1a1a1a" stroke-width="1.1"/>
<line x1="258.17" y1="306.82" x2="258.17" y2="312.82" stroke="#1a1a1a" stroke-width="1.0"/>
<line x1="256.27" y1="306.82" x2="260.07" y2="306.82" stroke="#1a1a1a" stroke-width="1.1"/>
<line x1="256.27" y1="312.82" x2="260.07" y2="312.82" stroke="#1a1a1a" stroke-width="1.1"/>
<line x1="270.45" y1="298.22" x2="270.45" y2="305.22" stroke="#1a1a1a" stroke-width="1.0"/>
<line x1="268.55" y1="298.22" x2="272.35" y2="298.22" stroke="#1a1a1a" stroke-width="1.1"/>
<line x1="268.55" y1="305.22" x2="272.35" y2="305.22" stroke="#1a1a1a" stroke-width="1.1"/>
<line x1="282.73" y1="293.38" x2="282.73" y2="299.38" stroke="#1a1a1a" stroke-width="1.0"/>
<line x1="280.83" y1="293.38" x2="284.63" y2="293.38" stroke="#1a1a1a" stroke-width="1.1"/>
<line x1="280.83" y1="299.38" x2="284.63" y2="299.38" stroke="#1a1a1a" stroke-width="1.1"/>
<line x1="295.02" y1="290.18" x2="295.02" y2="296.18" stroke="#1a1a1a" stroke-width="1.0"/>
<line x1="293.12" y1="290.18" x2="296.92" y2="290.18" stroke="#1a1a1a" stroke-width="1.1"/>
<line x1="293.12" y1="296.18" x2="296.92" y2="296.18" stroke="#1a1a1a" stroke-width="1.1"/>
<line x1="307.3" y1="287.98" x2="307.3" y2="292.98" stroke="#1a1a1a" stroke-width="1.0"/>
<line x1="305.4" y1="287.98" x2="309.2" y2="287.98" stroke="#1a1a1a" stroke-width="1.1"/>
<line x1="305.4" y1="292.98" x2="309.2" y2="292.98" stroke="#1a1a1a" stroke-width="1.1"/>
<circle cx="221.32" cy="335.56" r="2" fill="#1a1a1a" stroke="#1a1a1a" stroke-width="1.0"/>
<circle cx="233.6" cy="328.09" r="2" fill="#1a1a1a" stroke="#1a1a1a" stroke-width="1.0"/>
<circle cx="245.89" cy="319.49" r="2" fill="#1a1a1a" stroke="#1a1a1a" stroke-width="1.0"/>
<circle cx="258.17" cy="309.82" r="2" fill="#1a1a1a" stroke="#1a1a1a" stroke-width="1.0"/>
<circle cx="270.45" cy="301.72" r="2" fill="#1a1a1a" stroke="#1a1a1a" stroke-width="1.0"/>
<circle cx="282.73" cy="296.38" r="2" fill="#1a1a1a" stroke="#1a1a1a" stroke-width="1.0"/>
<circle cx="295.02" cy="293.18" r="2" fill="#1a1a1a" stroke="#1a1a1a" stroke-width="1.0"/>
<circle cx="307.3" cy="290.48" r="2" fill="#1a1a1a" stroke="#1a1a1a" stroke-width="1.0"/>
<text x="133.8" y="386.6" font-size="10.8" textLength="101.6" lengthAdjust="spacingAndGlyphs" style="stroke-width:0.3px">Log10 concentration (nM)</text>
<circle cx="154.5" cy="399.9" r="3.1" fill="#1a1a1a" stroke="#1a1a1a" stroke-width="0.8"/>
<text x="162.2" y="403" font-size="8.6" textLength="29.6" lengthAdjust="spacingAndGlyphs"><tspan font-style="italic">CEBPA</tspan><tspan baseline-shift="3" font-size="5.2">bi</tspan></text>
<circle cx="204.2" cy="399.9" r="3.1" fill="#fff" stroke="#1a1a1a" stroke-width="1.15"/>
<text x="210.3" y="403" font-size="8.6" textLength="11.9" lengthAdjust="spacingAndGlyphs">NK</text>
<text x="357.8" y="245" font-size="12" font-weight="bold">E</text>
<rect x="392.7" y="236.5" width="52.5" height="13.2" fill="#fff" stroke="#2a2a2a" stroke-width="1.2"/>
<circle cx="398.1" cy="243.5" r="2.6" fill="#d49c84" stroke="#3e1a0c" stroke-width="1.0"/>
<text x="402.9" y="246.73" font-size="8.15" textLength="39.4" lengthAdjust="spacingAndGlyphs"><tspan font-style="italic">CSF3R</tspan><tspan baseline-shift="3.2" font-size="4.6">T618I</tspan></text>
<line x1="384.3" y1="360.8" x2="384.3" y2="259" stroke="#1a1a1a" stroke-width="1.3"/>
<path d="M384.3 254 L387.7 261.5 L384.3 259.9 L380.9 261.5 Z" fill="#1a1a1a"/>
<line x1="383.7" y1="360.2" x2="505" y2="360.2" stroke="#1a1a1a" stroke-width="1.3"/>
<path d="M511.3 360.2 L503.1 356.8 L504.7 360.2 L503.1 363.6 Z" fill="#1a1a1a"/>
<line x1="381.3" y1="337.4" x2="384.3" y2="337.4" stroke="#1a1a1a" stroke-width="1"/>
<text x="377.8" y="340.3" font-size="8.05" text-anchor="end">6</text>
<line x1="381.3" y1="310.7" x2="384.3" y2="310.7" stroke="#1a1a1a" stroke-width="1"/>
<text x="377.8" y="313.6" font-size="8.05" text-anchor="end">9</text>
<line x1="381.3" y1="284" x2="384.3" y2="284" stroke="#1a1a1a" stroke-width="1"/>
<text x="377.8" y="286.9" font-size="8.05" text-anchor="end">12</text>
<line x1="403.8" y1="360.2" x2="403.8" y2="363.2" stroke="#1a1a1a" stroke-width="1"/>
<line x1="433" y1="360.2" x2="433" y2="363.2" stroke="#1a1a1a" stroke-width="1"/>
<line x1="463" y1="360.2" x2="463" y2="363.2" stroke="#1a1a1a" stroke-width="1"/>
<line x1="493" y1="360.2" x2="493" y2="363.2" stroke="#1a1a1a" stroke-width="1"/>
<text x="398.8" y="374.23" font-size="8.15" textLength="10" lengthAdjust="spacingAndGlyphs">All</text>
<text x="422.5" y="374.23" font-size="8.15" textLength="21.8" lengthAdjust="spacingAndGlyphs">GEP−</text>
<text x="452" y="374.23" font-size="8.15" textLength="21.8" lengthAdjust="spacingAndGlyphs">GEP+</text>
<text x="487.45" y="374.23" font-size="8.15" textLength="11.3" lengthAdjust="spacingAndGlyphs">NK</text>
<line x1="418.3" y1="258.8" x2="418.3" y2="360.2" stroke="#1a1a1a" stroke-width="0.9" stroke-dasharray="1.7 1.2"/>
<line x1="418.8" y1="378.8" x2="477" y2="378.8" stroke="#1a1a1a" stroke-width="1.1"/>
<text x="433.1" y="392.3" font-size="8.6" textLength="30" lengthAdjust="spacingAndGlyphs"><tspan font-style="italic">CEBPA</tspan><tspan baseline-shift="3" font-size="5.2">bi</tspan></text>
<text x="0" y="0" font-size="7.7" fill="#3a3a3a" style="stroke:#3a3a3a" textLength="85.8" lengthAdjust="spacingAndGlyphs" transform="translate(363.3 353.6) rotate(-90)">Log2 ruxolitinib IC50 (nM)</text>
<path d="M450.8 251.2 L450.8 248.4 L497.4 248.4 L497.4 251.2" fill="none" stroke="#1a1a1a" stroke-width="1.1" />
<text x="459.8" y="247" font-size="8.05" textLength="28.6" lengthAdjust="spacingAndGlyphs"><tspan font-style="italic">P</tspan> = .002</text>
<path d="M450.8 263.5 L450.8 260.2 L497.4 260.2 L497.4 265.7" fill="none" stroke="#1a1a1a" stroke-width="1.1" />
<text x="462.4" y="258.8" font-size="8.05" textLength="23.4" lengthAdjust="spacingAndGlyphs"><tspan font-style="italic">P</tspan> = .01</text>
<path d="M433.4 266.4 L433.4 263.5 L469.7 263.5 L469.7 266.4" fill="none" stroke="#1a1a1a" stroke-width="1.1" />
<circle cx="401.7" cy="272.8" r="2.5" fill="#7f81aa" stroke="#14142c" stroke-width="1.4"/>
<circle cx="399.9" cy="289.7" r="2.5" fill="#7f81aa" stroke="#14142c" stroke-width="1.4"/>
<circle cx="404.1" cy="294.5" r="2.5" fill="#7f81aa" stroke="#14142c" stroke-width="1.4"/>
<circle cx="396.6" cy="308.1" r="2.5" fill="#7f81aa" stroke="#14142c" stroke-width="1.4"/>
<circle cx="404.1" cy="307.6" r="2.5" fill="#7f81aa" stroke="#14142c" stroke-width="1.4"/>
<circle cx="404.4" cy="310.6" r="2.5" fill="#7f81aa" stroke="#14142c" stroke-width="1.4"/>
<circle cx="398.2" cy="315" r="2.5" fill="#7f81aa" stroke="#14142c" stroke-width="1.4"/>
<circle cx="404.4" cy="318.2" r="2.5" fill="#7f81aa" stroke="#14142c" stroke-width="1.4"/>
<circle cx="393.8" cy="321.3" r="2.5" fill="#7f81aa" stroke="#14142c" stroke-width="1.4"/>
<circle cx="399.2" cy="328" r="2.5" fill="#7f81aa" stroke="#14142c" stroke-width="1.4"/>
<circle cx="405.2" cy="327.7" r="2.5" fill="#7f81aa" stroke="#14142c" stroke-width="1.4"/>
<circle cx="404.1" cy="331.4" r="2.5" fill="#7f81aa" stroke="#14142c" stroke-width="1.4"/>
<circle cx="397.1" cy="336.6" r="2.5" fill="#7f81aa" stroke="#14142c" stroke-width="1.4"/>
<circle cx="397.9" cy="339.6" r="2.5" fill="#7f81aa" stroke="#14142c" stroke-width="1.4"/>
<circle cx="395.8" cy="344" r="2.5" fill="#7f81aa" stroke="#14142c" stroke-width="1.4"/>
<circle cx="406" cy="344.8" r="2.5" fill="#7f81aa" stroke="#14142c" stroke-width="1.4"/>
<circle cx="407.3" cy="347.5" r="2.5" fill="#7f81aa" stroke="#14142c" stroke-width="1.4"/>
<circle cx="400.3" cy="352.1" r="2.5" fill="#7f81aa" stroke="#14142c" stroke-width="1.4"/>
<circle cx="394.3" cy="332.1" r="2.5" fill="#d49c84" stroke="#3e1a0c" stroke-width="1.4"/>
<circle cx="403.6" cy="335.8" r="2.5" fill="#d49c84" stroke="#3e1a0c" stroke-width="1.4"/>
<circle cx="407.7" cy="338.6" r="2.5" fill="#d49c84" stroke="#3e1a0c" stroke-width="1.4"/>
<circle cx="400.3" cy="341.2" r="2.5" fill="#d49c84" stroke="#3e1a0c" stroke-width="1.4"/>
<line x1="391" y1="334.2" x2="416.1" y2="334.2" stroke="#1a1a1a" stroke-width="1.7"/>
<circle cx="431.7" cy="272.8" r="2.5" fill="#7f81aa" stroke="#14142c" stroke-width="1.4"/>
<circle cx="435" cy="318.4" r="2.5" fill="#7f81aa" stroke="#14142c" stroke-width="1.4"/>
<circle cx="435.8" cy="341.2" r="2.5" fill="#d49c84" stroke="#3e1a0c" stroke-width="1.4"/>
<line x1="419.9" y1="318.2" x2="445.9" y2="318.2" stroke="#1a1a1a" stroke-width="1.7"/>
<circle cx="465.7" cy="330.9" r="2.5" fill="#7f81aa" stroke="#14142c" stroke-width="1.4"/>
<circle cx="467.7" cy="336.6" r="2.5" fill="#7f81aa" stroke="#14142c" stroke-width="1.4"/>
<circle cx="459.9" cy="345.3" r="2.5" fill="#7f81aa" stroke="#14142c" stroke-width="1.4"/>
<circle cx="464.4" cy="344.3" r="2.5" fill="#7f81aa" stroke="#14142c" stroke-width="1.4"/>
<circle cx="466.4" cy="348.3" r="2.5" fill="#7f81aa" stroke="#14142c" stroke-width="1.4"/>
<circle cx="464.4" cy="352.4" r="2.5" fill="#7f81aa" stroke="#14142c" stroke-width="1.4"/>
<circle cx="462" cy="332.2" r="2.5" fill="#d49c84" stroke="#3e1a0c" stroke-width="1.4"/>
<circle cx="458.7" cy="334.7" r="2.5" fill="#d49c84" stroke="#3e1a0c" stroke-width="1.4"/>
<circle cx="465.2" cy="335.8" r="2.5" fill="#d49c84" stroke="#3e1a0c" stroke-width="1.4"/>
<circle cx="460.3" cy="339.1" r="2.5" fill="#d49c84" stroke="#3e1a0c" stroke-width="1.4"/>
<line x1="449.8" y1="338.7" x2="475.5" y2="338.7" stroke="#1a1a1a" stroke-width="1.7"/>
<circle cx="488" cy="289.7" r="2.5" fill="#7f81aa" stroke="#14142c" stroke-width="1.4"/>
<circle cx="493.4" cy="294.8" r="2.5" fill="#7f81aa" stroke="#14142c" stroke-width="1.4"/>
<circle cx="490.8" cy="308.1" r="2.5" fill="#7f81aa" stroke="#14142c" stroke-width="1.4"/>
<circle cx="496.2" cy="307.6" r="2.5" fill="#7f81aa" stroke="#14142c" stroke-width="1.4"/>
<circle cx="493.4" cy="311.1" r="2.5" fill="#7f81aa" stroke="#14142c" stroke-width="1.4"/>
<circle cx="493.7" cy="315.1" r="2.5" fill="#7f81aa" stroke="#14142c" stroke-width="1.4"/>
<circle cx="497" cy="321.5" r="2.5" fill="#7f81aa" stroke="#14142c" stroke-width="1.4"/>
<circle cx="493.7" cy="328.2" r="2.5" fill="#7f81aa" stroke="#14142c" stroke-width="1.4"/>
<circle cx="494.5" cy="334.7" r="2.5" fill="#7f81aa" stroke="#14142c" stroke-width="1.4"/>
<circle cx="490.5" cy="336.6" r="2.5" fill="#7f81aa" stroke="#14142c" stroke-width="1.4"/>
<circle cx="495.3" cy="338.6" r="2.5" fill="#7f81aa" stroke="#14142c" stroke-width="1.4"/>
<circle cx="492.1" cy="340.2" r="2.5" fill="#7f81aa" stroke="#14142c" stroke-width="1.4"/>
<line x1="479.9" y1="324.9" x2="505.9" y2="324.9" stroke="#1a1a1a" stroke-width="1.7"/>
<text x="8" y="430.6" font-size="12" font-weight="bold">F</text>
<text x="63.5" y="445.1" font-size="10.0" textLength="88.4" lengthAdjust="spacingAndGlyphs">Ruxolitinib response</text>
<text x="72.2" y="456.7" font-size="10.0" textLength="71.7" lengthAdjust="spacingAndGlyphs">in <tspan font-style="italic">CEBPA</tspan><tspan baseline-shift="3.6" font-size="6.6">bi</tspan> AML</text>
<line x1="45.2" y1="553.7" x2="45.2" y2="453.4" stroke="#1a1a1a" stroke-width="1.3"/>
<path d="M45.2 448.4 L48.6 455.9 L45.2 454.3 L41.8 455.9 Z" fill="#1a1a1a"/>
<line x1="44.6" y1="553.1" x2="171" y2="553.1" stroke="#1a1a1a" stroke-width="1.3"/>
<path d="M176 553.1 L167.8 549.7 L169.4 553.1 L167.8 556.5 Z" fill="#1a1a1a"/>
<line x1="42" y1="544.6" x2="45.2" y2="544.6" stroke="#1a1a1a" stroke-width="1.2"/>
<text x="38.4" y="547.48" font-size="8.0" text-anchor="end">0</text>
<line x1="42" y1="523.89" x2="45.2" y2="523.89" stroke="#1a1a1a" stroke-width="1.2"/>
<text x="38.4" y="526.77" font-size="8.0" text-anchor="end">25</text>
<line x1="42" y1="503.18" x2="45.2" y2="503.18" stroke="#1a1a1a" stroke-width="1.2"/>
<text x="38.4" y="506.06" font-size="8.0" text-anchor="end">50</text>
<line x1="42" y1="482.46" x2="45.2" y2="482.46" stroke="#1a1a1a" stroke-width="1.2"/>
<text x="38.4" y="485.34" font-size="8.0" text-anchor="end">75</text>
<line x1="42" y1="461.75" x2="45.2" y2="461.75" stroke="#1a1a1a" stroke-width="1.2"/>
<text x="38.4" y="464.63" font-size="8.0" text-anchor="end">100</text>
<line x1="45.2" y1="553.1" x2="45.2" y2="556.3" stroke="#1a1a1a" stroke-width="1.2"/>
<text x="45.2" y="566.68" font-size="8.0" text-anchor="middle">0</text>
<line x1="75" y1="553.1" x2="75" y2="556.3" stroke="#1a1a1a" stroke-width="1.2"/>
<text x="75" y="566.68" font-size="8.0" text-anchor="middle">1</text>
<line x1="104.8" y1="553.1" x2="104.8" y2="556.3" stroke="#1a1a1a" stroke-width="1.2"/>
<text x="104.8" y="566.68" font-size="8.0" text-anchor="middle">2</text>
<line x1="134.6" y1="553.1" x2="134.6" y2="556.3" stroke="#1a1a1a" stroke-width="1.2"/>
<text x="134.6" y="566.68" font-size="8.0" text-anchor="middle">3</text>
<line x1="164.4" y1="553.1" x2="164.4" y2="556.3" stroke="#1a1a1a" stroke-width="1.2"/>
<text x="164.4" y="566.68" font-size="8.0" text-anchor="middle">4</text>
<text x="0" y="0" font-size="10.2" textLength="46.4" lengthAdjust="spacingAndGlyphs" transform="translate(20.1 528) rotate(-90)">% inhibition</text>
<text x="54" y="579.4" font-size="11.0" textLength="103.9" lengthAdjust="spacingAndGlyphs" style="stroke-width:0.3px">Log 10 concentration (nM)</text>
<path d="M64.9 517.08 L66.56 516.56 L68.21 516 L69.87 515.38 L71.53 514.7 L73.19 513.96 L74.85 513.16 L76.51 512.28 L78.16 511.34 L79.82 510.32 L81.48 509.22 L83.14 508.05 L84.8 506.8 L86.46 505.48 L88.11 504.08 L89.77 502.61 L91.43 501.08 L93.09 499.49 L94.75 497.84 L96.41 496.15 L98.07 494.43 L99.72 492.69 L101.38 490.93 L103.04 489.17 L104.7 487.43 L106.36 485.71 L108.02 484.02 L109.67 482.38 L111.33 480.79 L112.99 479.27 L114.65 477.82 L116.31 476.44 L117.97 475.15 L119.62 473.95 L121.28 472.84 L122.94 471.82 L124.6 470.89 L126.26 470.06 L127.92 469.31 L129.57 468.66 L131.23 468.08 L132.89 467.59 L134.55 467.17 L136.21 466.81 L137.87 466.5 L139.52 466.25 L141.18 466.03 L142.84 465.85 L144.5 465.69 L146.16 465.56 L147.82 465.43 L149.47 465.33 L151.13 465.23 L152.79 465.13 L154.45 465.05 L156.11 464.96 L157.77 464.89 L159.42 464.81 L161.08 464.74 L162.74 464.68 L164.4 464.62 L164.4 477.89 L162.74 477.97 L161.08 478.05 L159.42 478.14 L157.77 478.24 L156.11 478.35 L154.45 478.46 L152.79 478.59 L151.13 478.73 L149.47 478.88 L147.82 479.05 L146.16 479.24 L144.5 479.45 L142.84 479.68 L141.18 479.94 L139.52 480.24 L137.87 480.59 L136.21 480.98 L134.55 481.42 L132.89 481.93 L131.23 482.51 L129.57 483.15 L127.92 483.88 L126.26 484.68 L124.6 485.57 L122.94 486.55 L121.28 487.61 L119.62 488.76 L117.97 489.99 L116.31 491.31 L114.65 492.7 L112.99 494.17 L111.33 495.71 L109.67 497.31 L108.02 498.97 L106.36 500.66 L104.7 502.39 L103.04 504.14 L101.38 505.91 L99.72 507.67 L98.07 509.41 L96.41 511.14 L94.75 512.83 L93.09 514.48 L91.43 516.07 L89.77 517.61 L88.11 519.08 L86.46 520.47 L84.8 521.8 L83.14 523.05 L81.48 524.22 L79.82 525.32 L78.16 526.34 L76.51 527.28 L74.85 528.16 L73.19 528.96 L71.53 529.7 L69.87 530.38 L68.21 531 L66.56 531.56 L64.9 532.07 Z" fill="#7e7e7e" stroke="none"/>
<path d="M64.9 524.01 L66.93 523.38 L68.96 522.66 L70.99 521.87 L73.02 520.98 L75.05 519.99 L77.08 518.9 L79.11 517.7 L81.14 516.39 L83.17 514.96 L85.2 513.42 L87.24 511.76 L89.27 509.99 L91.3 508.13 L93.33 506.17 L95.36 504.14 L97.39 502.04 L99.42 499.9 L101.45 497.74 L103.48 495.57 L105.51 493.42 L107.54 491.31 L109.57 489.26 L111.6 487.28 L113.63 485.39 L115.66 483.6 L117.69 481.92 L119.73 480.35 L121.76 478.9 L123.79 477.57 L125.82 476.35 L127.85 475.25 L129.88 474.25 L131.91 473.36 L133.94 472.57 L135.97 471.86 L138 471.23 L140.03 470.68 L142.06 470.19 L144.09 469.75 L146.12 469.37 L148.15 469.04 L150.19 468.74 L152.22 468.48 L154.25 468.25 L156.28 468.05 L158.31 467.87 L160.34 467.72 L162.37 467.58 L164.4 467.46" fill="none" stroke="#d6d6d6" stroke-width="0.8" />
<path d="M64.9 520.93 L66.93 520.29 L68.96 519.58 L70.99 518.78 L73.02 517.89 L75.05 516.91 L77.08 515.82 L79.11 514.62 L81.14 513.3 L83.17 511.88 L85.2 510.33 L87.24 508.68 L89.27 506.91 L91.3 505.05 L93.33 503.09 L95.36 501.06 L97.39 498.97 L99.42 496.84 L101.45 494.68 L103.48 492.52 L105.51 490.38 L107.54 488.28 L109.57 486.24 L111.6 484.28 L113.63 482.41 L115.66 480.65 L117.69 479 L119.73 477.47 L121.76 476.07 L123.79 474.8 L125.82 473.65 L127.85 472.62 L129.88 471.72 L131.91 470.92 L133.94 470.23 L135.97 469.63 L138 469.12 L140.03 468.67 L142.06 468.29 L144.09 467.96 L146.12 467.68 L148.15 467.42 L150.19 467.2 L152.22 467.01 L154.25 466.83 L156.28 466.67 L158.31 466.54 L160.34 466.41 L162.37 466.3 L164.4 466.2" fill="none" stroke="#d6d6d6" stroke-width="0.8" />
<path d="M64.9 517.68 L66.93 517.04 L68.96 516.33 L70.99 515.53 L73.02 514.64 L75.05 513.65 L77.08 512.56 L79.11 511.36 L81.14 510.05 L83.17 508.63 L85.2 507.09 L87.24 505.43 L89.27 503.67 L91.3 501.81 L93.33 499.85 L95.36 497.83 L97.39 495.74 L99.42 493.61 L101.45 491.46 L103.48 489.31 L105.51 487.18 L107.54 485.1 L109.57 483.08 L111.6 481.14 L113.63 479.3 L115.66 477.57 L117.69 475.96 L119.73 474.48 L121.76 473.14 L123.79 471.93 L125.82 470.87 L127.85 469.94 L129.88 469.15 L131.91 468.47 L133.94 467.91 L135.97 467.45 L138 467.08 L140.03 466.78 L142.06 466.53 L144.09 466.33 L146.12 466.16 L148.15 466.01 L150.19 465.88 L152.22 465.76 L154.25 465.66 L156.28 465.56 L158.31 465.46 L160.34 465.37 L162.37 465.29 L164.4 465.22" fill="none" stroke="#d6d6d6" stroke-width="0.8" />
<path d="M64.9 528.11 L66.93 527.48 L68.96 526.77 L70.99 525.97 L73.02 525.08 L75.05 524.09 L77.08 523 L79.11 521.8 L81.14 520.49 L83.17 519.06 L85.2 517.52 L87.24 515.86 L89.27 514.1 L91.3 512.23 L93.33 510.28 L95.36 508.24 L97.39 506.15 L99.42 504.01 L101.45 501.85 L103.48 499.69 L105.51 497.54 L107.54 495.44 L109.57 493.39 L111.6 491.42 L113.63 489.54 L115.66 487.76 L117.69 486.09 L119.73 484.54 L121.76 483.11 L123.79 481.8 L125.82 480.62 L127.85 479.55 L129.88 478.59 L131.91 477.74 L133.94 476.99 L135.97 476.33 L138 475.75 L140.03 475.25 L142.06 474.8 L144.09 474.41 L146.12 474.07 L148.15 473.77 L150.19 473.51 L152.22 473.28 L154.25 473.07 L156.28 472.89 L158.31 472.73 L160.34 472.59 L162.37 472.46 L164.4 472.35" fill="none" stroke="#cccccc" stroke-width="0.8" />
<path d="M64.9 531.57 L66.93 530.94 L68.96 530.22 L70.99 529.42 L73.02 528.54 L75.05 527.55 L77.08 526.46 L79.11 525.26 L81.14 523.95 L83.17 522.52 L85.2 520.98 L87.24 519.32 L89.27 517.56 L91.3 515.69 L93.33 513.74 L95.36 511.71 L97.39 509.62 L99.42 507.48 L101.45 505.33 L103.48 503.17 L105.51 501.03 L107.54 498.94 L109.57 496.9 L111.6 494.94 L113.63 493.08 L115.66 491.32 L117.69 489.68 L119.73 488.16 L121.76 486.76 L123.79 485.5 L125.82 484.36 L127.85 483.35 L129.88 482.46 L131.91 481.69 L133.94 481.02 L135.97 480.44 L138 479.95 L140.03 479.52 L142.06 479.16 L144.09 478.85 L146.12 478.58 L148.15 478.35 L150.19 478.14 L152.22 477.96 L154.25 477.79 L156.28 477.64 L158.31 477.51 L160.34 477.39 L162.37 477.28 L164.4 477.19" fill="none" stroke="#cccccc" stroke-width="0.8" />
<path d="M64.9 524.87 L66.56 524.36 L68.21 523.8 L69.87 523.18 L71.53 522.5 L73.19 521.76 L74.85 520.95 L76.51 520.08 L78.16 519.13 L79.82 518.11 L81.48 517.02 L83.14 515.84 L84.8 514.59 L86.46 513.27 L88.11 511.87 L89.77 510.4 L91.43 508.86 L93.09 507.26 L94.75 505.61 L96.41 503.92 L98.07 502.19 L99.72 500.43 L101.38 498.66 L103.04 496.89 L104.7 495.13 L106.36 493.39 L108.02 491.67 L109.67 490 L111.33 488.38 L112.99 486.81 L114.65 485.31 L116.31 483.88 L117.97 482.52 L119.62 481.23 L121.28 480.02 L122.94 478.89 L124.6 477.83 L126.26 476.85 L127.92 475.95 L129.57 475.11 L131.23 474.34 L132.89 473.63 L134.55 472.99 L136.21 472.4 L137.87 471.86 L139.52 471.37 L141.18 470.93 L142.84 470.53 L144.5 470.17 L146.16 469.84 L147.82 469.54 L149.47 469.28 L151.13 469.04 L152.79 468.82 L154.45 468.63 L156.11 468.45 L157.77 468.3 L159.42 468.16 L161.08 468.03 L162.74 467.92 L164.4 467.82" fill="none" stroke="#111" stroke-width="1.5" />
<path d="M64.9 540.51 L66.56 540.39 L68.21 540.26 L69.87 540.11 L71.53 539.93 L73.19 539.72 L74.85 539.49 L76.51 539.21 L78.16 538.89 L79.82 538.52 L81.48 538.1 L83.14 537.61 L84.8 537.06 L86.46 536.42 L88.11 535.69 L89.77 534.86 L91.43 533.92 L93.09 532.86 L94.75 531.67 L96.41 530.34 L98.07 528.86 L99.72 527.22 L101.38 525.43 L103.04 523.48 L104.7 521.37 L106.36 519.12 L108.02 516.73 L109.67 514.22 L111.33 511.63 L112.99 508.96 L114.65 506.26 L116.31 503.55 L117.97 500.87 L119.62 498.24 L121.28 495.69 L122.94 493.25 L124.6 490.94 L126.26 488.77 L127.92 486.75 L129.57 484.88 L131.23 483.18 L132.89 481.63 L134.55 480.24 L136.21 478.99 L137.87 477.87 L139.52 476.88 L141.18 476.01 L142.84 475.24 L144.5 474.56 L146.16 473.97 L147.82 473.46 L149.47 473.01 L151.13 472.62 L152.79 472.28 L154.45 471.99 L156.11 471.73 L157.77 471.51 L159.42 471.32 L161.08 471.16 L162.74 471.02 L164.4 470.9" fill="none" stroke="#a3294b" stroke-width="1.3" />
<path d="M64.9 549.82 L66.56 549.82 L68.21 549.82 L69.87 549.82 L71.53 549.82 L73.19 549.82 L74.85 549.81 L76.51 549.81 L78.16 549.8 L79.82 549.79 L81.48 549.77 L83.14 549.75 L84.8 549.73 L86.46 549.7 L88.11 549.66 L89.77 549.62 L91.43 549.56 L93.09 549.5 L94.75 549.43 L96.41 549.34 L98.07 549.25 L99.72 549.14 L101.38 549.01 L103.04 548.87 L104.7 548.72 L106.36 548.54 L108.02 548.35 L109.67 548.14 L111.33 547.9 L112.99 547.64 L114.65 547.36 L116.31 547.05 L117.97 546.72 L119.62 546.35 L121.28 545.96 L122.94 545.54 L124.6 545.08 L126.26 544.59 L127.92 544.06 L129.57 543.49 L131.23 542.89 L132.89 542.25 L134.55 541.56 L136.21 540.83 L137.87 540.05 L139.52 539.23 L141.18 538.36 L142.84 537.44 L144.5 536.46 L146.16 535.43 L147.82 534.35 L149.47 533.2 L151.13 532 L152.79 530.74 L154.45 529.41 L156.11 528.01 L157.77 526.55 L159.42 525.02 L161.08 523.42 L162.74 521.74 L164.4 519.99" fill="none" stroke="#5d6699" stroke-width="1.3" />
<circle cx="64.9" cy="525.63" r="2.3" fill="#d49c84" stroke="#3e1a0c" stroke-width="1.0"/>
<circle cx="79.11" cy="517.26" r="2.3" fill="#d49c84" stroke="#3e1a0c" stroke-width="1.0"/>
<circle cx="93.33" cy="507.32" r="2.3" fill="#d49c84" stroke="#3e1a0c" stroke-width="1.0"/>
<circle cx="107.54" cy="493.23" r="2.3" fill="#d49c84" stroke="#3e1a0c" stroke-width="1.0"/>
<circle cx="121.76" cy="478.32" r="2.3" fill="#d49c84" stroke="#3e1a0c" stroke-width="1.0"/>
<circle cx="135.97" cy="472.93" r="2.3" fill="#d49c84" stroke="#3e1a0c" stroke-width="1.0"/>
<circle cx="150.19" cy="468.96" r="2.3" fill="#d49c84" stroke="#3e1a0c" stroke-width="1.0"/>
<circle cx="164.4" cy="468.13" r="2.3" fill="#d49c84" stroke="#3e1a0c" stroke-width="1.0"/>
<circle cx="64.9" cy="544.19" r="2.4" fill="#7f81aa" stroke="#14142c" stroke-width="1.0"/>
<circle cx="93.33" cy="549.57" r="2.4" fill="#7f81aa" stroke="#14142c" stroke-width="1.0"/>
<circle cx="107.54" cy="547.33" r="2.4" fill="#7f81aa" stroke="#14142c" stroke-width="1.0"/>
<circle cx="121.76" cy="544.6" r="2.4" fill="#7f81aa" stroke="#14142c" stroke-width="1.0"/>
<circle cx="135.97" cy="539.21" r="2.4" fill="#7f81aa" stroke="#14142c" stroke-width="1.0"/>
<circle cx="150.19" cy="532.17" r="2.4" fill="#7f81aa" stroke="#14142c" stroke-width="1.0"/>
<circle cx="164.4" cy="519.99" r="2.4" fill="#7f81aa" stroke="#14142c" stroke-width="1.0"/>
<circle cx="64.9" cy="536.98" r="2.4" fill="#70203a" stroke="#2a0a16" stroke-width="1.0"/>
<circle cx="79.11" cy="541.95" r="2.4" fill="#70203a" stroke="#2a0a16" stroke-width="1.0"/>
<circle cx="93.33" cy="533.83" r="2.4" fill="#70203a" stroke="#2a0a16" stroke-width="1.0"/>
<circle cx="107.54" cy="516.68" r="2.4" fill="#70203a" stroke="#2a0a16" stroke-width="1.0"/>
<circle cx="121.76" cy="493.73" r="2.4" fill="#70203a" stroke="#2a0a16" stroke-width="1.0"/>
<circle cx="135.97" cy="481.05" r="2.4" fill="#70203a" stroke="#2a0a16" stroke-width="1.0"/>
<circle cx="150.19" cy="474.84" r="2.4" fill="#70203a" stroke="#2a0a16" stroke-width="1.0"/>
<circle cx="164.4" cy="468.13" r="2.4" fill="#70203a" stroke="#2a0a16" stroke-width="1.0"/>
<path d="M42.2 593.8 L43.8 593.6 C46.2 593.2 46.0 588.6 48.5 588.3 L50.2 588.2" fill="none" stroke="#4a4a4a" stroke-width="1.4" />
<text x="53.1" y="595.9" font-size="8.6" textLength="83.5" lengthAdjust="spacingAndGlyphs"><tspan font-style="italic">CEBPA</tspan><tspan baseline-shift="3" font-size="5.2">bi</tspan> GEP+ (n  = 11)</text>
<circle cx="44.9" cy="606.3" r="2.8" fill="#d49c84" stroke="#3e1a0c" stroke-width="1.0"/>
<text x="51.1" y="609.7" font-size="8.6" textLength="120.4" lengthAdjust="spacingAndGlyphs">10H136 <tspan font-style="italic">CEBPA</tspan><tspan baseline-shift="3" font-size="5.2">bi</tspan> GEP- / <tspan font-style="italic">CSF3R</tspan><tspan baseline-shift="3" font-size="5.2">mut</tspan></text>
<circle cx="44.9" cy="619.7" r="2.8" fill="#7f81aa" stroke="#14142c" stroke-width="1.0"/>
<text x="51.8" y="623.7" font-size="8.6" textLength="119.3" lengthAdjust="spacingAndGlyphs">08H082: <tspan font-style="italic">CEBPA</tspan><tspan baseline-shift="3" font-size="5.2">bi</tspan> GEP- / <tspan font-style="italic">CSF3R</tspan><tspan baseline-shift="3" font-size="5.2">wt</tspan></text>
<circle cx="44.9" cy="632" r="2.8" fill="#8a2a45" stroke="#2a0a16" stroke-width="1.0"/>
<text x="51.1" y="635.9" font-size="8.6" textLength="120" lengthAdjust="spacingAndGlyphs">10H149: <tspan font-style="italic">CEBPA</tspan><tspan baseline-shift="3" font-size="5.2">bi</tspan> GEP- / <tspan font-style="italic">CSF3R</tspan><tspan baseline-shift="3" font-size="5.2">wt</tspan></text>
<text x="189.4" y="430.5" font-size="12" font-weight="bold">G</text>
<line x1="273.5" y1="432.75" x2="283.5" y2="432.75" stroke="#1a1a1a" stroke-width="1.1"/>
<line x1="446.9" y1="432.75" x2="456.2" y2="432.75" stroke="#1a1a1a" stroke-width="1.1"/>
<rect x="283.5" y="424.9" width="163.4" height="15.7" fill="#fff" stroke="#2a2a2a" stroke-width="1.2"/>
<circle cx="289.2" cy="432.75" r="2.7" fill="#d49c84" stroke="#3e1a0c" stroke-width="1.0"/>
<text x="296" y="436.49" font-size="7.9" textLength="147.7" lengthAdjust="spacingAndGlyphs">JAK inhibitors: <tspan font-style="italic">CEBPA</tspan><tspan baseline-shift="3" font-size="5.2">bi</tspan> GEP+ vs <tspan font-style="italic">CEBPA</tspan><tspan baseline-shift="3" font-size="5.2">wt</tspan></text>
<text x="263" y="453.7" font-size="10.0" textLength="45" lengthAdjust="spacingAndGlyphs">Ruxolitinib</text>
<text x="227" y="465" font-size="10.0" textLength="116" lengthAdjust="spacingAndGlyphs">IC50: 58 vs 180 (<tspan font-style="italic">P</tspan> = .002)</text>
<text x="423.8" y="453.7" font-size="10.0" textLength="35.7" lengthAdjust="spacingAndGlyphs">CYT387</text>
<text x="381.3" y="465" font-size="10.0" textLength="120" lengthAdjust="spacingAndGlyphs">IC50: 34 vs 118 (<tspan font-style="italic">P</tspan> = .0004)</text>
<line x1="223.1" y1="553.7" x2="223.1" y2="469.7" stroke="#1a1a1a" stroke-width="1.3"/>
<path d="M223.1 464.7 L226.5 472.2 L223.1 470.6 L219.7 472.2 Z" fill="#1a1a1a"/>
<line x1="222.5" y1="553.1" x2="347" y2="553.1" stroke="#1a1a1a" stroke-width="1.3"/>
<path d="M352 553.1 L343.8 549.7 L345.4 553.1 L343.8 556.5 Z" fill="#1a1a1a"/>
<line x1="219.9" y1="545.7" x2="223.1" y2="545.7" stroke="#1a1a1a" stroke-width="1.2"/>
<text x="216.3" y="548.54" font-size="7.9" text-anchor="end">0</text>
<line x1="219.9" y1="527.86" x2="223.1" y2="527.86" stroke="#1a1a1a" stroke-width="1.2"/>
<text x="216.3" y="530.71" font-size="7.9" text-anchor="end">25</text>
<line x1="219.9" y1="510.03" x2="223.1" y2="510.03" stroke="#1a1a1a" stroke-width="1.2"/>
<text x="216.3" y="512.87" font-size="7.9" text-anchor="end">50</text>
<line x1="219.9" y1="492.19" x2="223.1" y2="492.19" stroke="#1a1a1a" stroke-width="1.2"/>
<text x="216.3" y="495.03" font-size="7.9" text-anchor="end">75</text>
<line x1="219.9" y1="474.35" x2="223.1" y2="474.35" stroke="#1a1a1a" stroke-width="1.2"/>
<text x="216.3" y="477.19" font-size="7.9" text-anchor="end">100</text>
<line x1="223.2" y1="553.1" x2="223.2" y2="556.3" stroke="#1a1a1a" stroke-width="1.2"/>
<text x="223.2" y="566.74" font-size="7.9" text-anchor="middle">0</text>
<line x1="249.15" y1="553.1" x2="249.15" y2="556.3" stroke="#1a1a1a" stroke-width="1.2"/>
<text x="249.15" y="566.74" font-size="7.9" text-anchor="middle">1</text>
<line x1="275.1" y1="553.1" x2="275.1" y2="556.3" stroke="#1a1a1a" stroke-width="1.2"/>
<text x="275.1" y="566.74" font-size="7.9" text-anchor="middle">2</text>
<line x1="301.05" y1="553.1" x2="301.05" y2="556.3" stroke="#1a1a1a" stroke-width="1.2"/>
<text x="301.05" y="566.74" font-size="7.9" text-anchor="middle">3</text>
<line x1="327" y1="553.1" x2="327" y2="556.3" stroke="#1a1a1a" stroke-width="1.2"/>
<text x="327" y="566.74" font-size="7.9" text-anchor="middle">4</text>
<text x="0" y="0" font-size="9.3" textLength="46.3" lengthAdjust="spacingAndGlyphs" transform="translate(197.2 535.9) rotate(-90)">% inhibition</text>
<path d="M240.35 529.61 L241.8 528.98 L243.24 528.3 L244.69 527.58 L246.13 526.81 L247.57 525.99 L249.02 525.12 L250.46 524.2 L251.91 523.23 L253.35 522.21 L254.79 521.15 L256.24 520.04 L257.68 518.88 L259.13 517.68 L260.57 516.45 L262.01 515.18 L263.46 513.88 L264.9 512.55 L266.35 511.21 L267.79 509.86 L269.24 508.5 L270.68 507.14 L272.12 505.78 L273.57 504.43 L275.01 503.11 L276.46 501.8 L277.9 500.53 L279.34 499.28 L280.79 498.08 L282.23 496.91 L283.68 495.79 L285.12 494.71 L286.56 493.68 L288.01 492.7 L289.45 491.77 L290.9 490.89 L292.34 490.06 L293.79 489.28 L295.23 488.55 L296.67 487.86 L298.12 487.22 L299.56 486.62 L301.01 486.06 L302.45 485.55 L303.89 485.07 L305.34 484.63 L306.78 484.22 L308.23 483.84 L309.67 483.49 L311.11 483.17 L312.56 482.88 L314 482.6 L315.45 482.36 L316.89 482.13 L318.34 481.92 L319.78 481.73 L321.22 481.55 L322.67 481.39 L324.11 481.25 L325.56 481.11 L327 480.99" fill="none" stroke="#1a1a1a" stroke-width="1.5" stroke-linejoin="round"/>
<path d="M240.35 537.89 L241.8 537.56 L243.24 537.21 L244.69 536.82 L246.13 536.4 L247.57 535.94 L249.02 535.45 L250.46 534.92 L251.91 534.34 L253.35 533.72 L254.79 533.06 L256.24 532.34 L257.68 531.58 L259.13 530.77 L260.57 529.9 L262.01 528.99 L263.46 528.02 L264.9 526.99 L266.35 525.92 L267.79 524.8 L269.24 523.63 L270.68 522.42 L272.12 521.17 L273.57 519.88 L275.01 518.56 L276.46 517.21 L277.9 515.85 L279.34 514.47 L280.79 513.08 L282.23 511.69 L283.68 510.31 L285.12 508.94 L286.56 507.59 L288.01 506.27 L289.45 504.97 L290.9 503.71 L292.34 502.49 L293.79 501.32 L295.23 500.19 L296.67 499.1 L298.12 498.07 L299.56 497.09 L301.01 496.17 L302.45 495.29 L303.89 494.47 L305.34 493.7 L306.78 492.97 L308.23 492.3 L309.67 491.67 L311.11 491.09 L312.56 490.55 L314 490.05 L315.45 489.58 L316.89 489.16 L318.34 488.76 L319.78 488.4 L321.22 488.07 L322.67 487.77 L324.11 487.49 L325.56 487.23 L327 487" fill="none" stroke="#1a1a1a" stroke-width="1.5" stroke-linejoin="round"/>
<line x1="240.35" y1="535.64" x2="240.35" y2="539.64" stroke="#1a1a1a" stroke-width="1.0"/>
<line x1="238.45" y1="535.64" x2="242.25" y2="535.64" stroke="#1a1a1a" stroke-width="1.1"/>
<line x1="238.45" y1="539.64" x2="242.25" y2="539.64" stroke="#1a1a1a" stroke-width="1.1"/>
<line x1="252.73" y1="531.28" x2="252.73" y2="537.28" stroke="#1a1a1a" stroke-width="1.0"/>
<line x1="250.83" y1="531.28" x2="254.63" y2="531.28" stroke="#1a1a1a" stroke-width="1.1"/>
<line x1="250.83" y1="537.28" x2="254.63" y2="537.28" stroke="#1a1a1a" stroke-width="1.1"/>
<line x1="265.11" y1="522.58" x2="265.11" y2="530.58" stroke="#1a1a1a" stroke-width="1.0"/>
<line x1="263.21" y1="522.58" x2="267.01" y2="522.58" stroke="#1a1a1a" stroke-width="1.1"/>
<line x1="263.21" y1="530.58" x2="267.01" y2="530.58" stroke="#1a1a1a" stroke-width="1.1"/>
<line x1="277.49" y1="512.87" x2="277.49" y2="521.87" stroke="#1a1a1a" stroke-width="1.0"/>
<line x1="275.59" y1="512.87" x2="279.39" y2="512.87" stroke="#1a1a1a" stroke-width="1.1"/>
<line x1="275.59" y1="521.87" x2="279.39" y2="521.87" stroke="#1a1a1a" stroke-width="1.1"/>
<line x1="289.87" y1="498.18" x2="289.87" y2="507.18" stroke="#1a1a1a" stroke-width="1.0"/>
<line x1="287.97" y1="498.18" x2="291.77" y2="498.18" stroke="#1a1a1a" stroke-width="1.1"/>
<line x1="287.97" y1="507.18" x2="291.77" y2="507.18" stroke="#1a1a1a" stroke-width="1.1"/>
<line x1="302.24" y1="493.18" x2="302.24" y2="499.18" stroke="#1a1a1a" stroke-width="1.0"/>
<line x1="300.34" y1="493.18" x2="304.14" y2="493.18" stroke="#1a1a1a" stroke-width="1.1"/>
<line x1="300.34" y1="499.18" x2="304.14" y2="499.18" stroke="#1a1a1a" stroke-width="1.1"/>
<line x1="314.62" y1="488.83" x2="314.62" y2="493.83" stroke="#1a1a1a" stroke-width="1.0"/>
<line x1="312.72" y1="488.83" x2="316.52" y2="488.83" stroke="#1a1a1a" stroke-width="1.1"/>
<line x1="312.72" y1="493.83" x2="316.52" y2="493.83" stroke="#1a1a1a" stroke-width="1.1"/>
<line x1="327" y1="483.77" x2="327" y2="487.77" stroke="#1a1a1a" stroke-width="1.0"/>
<line x1="325.1" y1="483.77" x2="328.9" y2="483.77" stroke="#1a1a1a" stroke-width="1.1"/>
<line x1="325.1" y1="487.77" x2="328.9" y2="487.77" stroke="#1a1a1a" stroke-width="1.1"/>
<rect x="238.65" y="535.94" width="3.4" height="3.4" fill="#fff" stroke="#1a1a1a" stroke-width="1"/>
<circle cx="252.73" cy="534.28" r="1.9" fill="#fff" stroke="#1a1a1a" stroke-width="1.0"/>
<circle cx="265.11" cy="526.58" r="1.9" fill="#fff" stroke="#1a1a1a" stroke-width="1.0"/>
<circle cx="277.49" cy="517.37" r="1.9" fill="#fff" stroke="#1a1a1a" stroke-width="1.0"/>
<circle cx="289.87" cy="502.68" r="1.9" fill="#fff" stroke="#1a1a1a" stroke-width="1.0"/>
<circle cx="302.24" cy="496.18" r="1.9" fill="#fff" stroke="#1a1a1a" stroke-width="1.0"/>
<rect x="312.92" y="489.63" width="3.4" height="3.4" fill="#fff" stroke="#1a1a1a" stroke-width="1"/>
<rect x="325.3" y="484.07" width="3.4" height="3.4" fill="#fff" stroke="#1a1a1a" stroke-width="1"/>
<circle cx="240.35" cy="529.43" r="2" fill="#1a1a1a" stroke="#1a1a1a" stroke-width="1.0"/>
<circle cx="252.73" cy="523.22" r="2" fill="#1a1a1a" stroke="#1a1a1a" stroke-width="1.0"/>
<circle cx="265.11" cy="511.45" r="2" fill="#1a1a1a" stroke="#1a1a1a" stroke-width="1.0"/>
<circle cx="277.49" cy="501.96" r="2" fill="#1a1a1a" stroke="#1a1a1a" stroke-width="1.0"/>
<circle cx="289.87" cy="490.62" r="2" fill="#1a1a1a" stroke="#1a1a1a" stroke-width="1.0"/>
<circle cx="302.24" cy="485.77" r="2" fill="#1a1a1a" stroke="#1a1a1a" stroke-width="1.0"/>
<circle cx="314.62" cy="483.13" r="2" fill="#1a1a1a" stroke="#1a1a1a" stroke-width="1.0"/>
<circle cx="327" cy="480.56" r="2" fill="#1a1a1a" stroke="#1a1a1a" stroke-width="1.0"/>
<line x1="376.6" y1="553.7" x2="376.6" y2="469.7" stroke="#1a1a1a" stroke-width="1.3"/>
<path d="M376.6 464.7 L380 472.2 L376.6 470.6 L373.2 472.2 Z" fill="#1a1a1a"/>
<line x1="376" y1="553.1" x2="503.4" y2="553.1" stroke="#1a1a1a" stroke-width="1.3"/>
<path d="M508.4 553.1 L500.2 549.7 L501.8 553.1 L500.2 556.5 Z" fill="#1a1a1a"/>
<line x1="373.4" y1="545.7" x2="376.6" y2="545.7" stroke="#1a1a1a" stroke-width="1.2"/>
<text x="369.8" y="548.54" font-size="7.9" text-anchor="end">0</text>
<line x1="373.4" y1="527.86" x2="376.6" y2="527.86" stroke="#1a1a1a" stroke-width="1.2"/>
<text x="369.8" y="530.71" font-size="7.9" text-anchor="end">25</text>
<line x1="373.4" y1="510.03" x2="376.6" y2="510.03" stroke="#1a1a1a" stroke-width="1.2"/>
<text x="369.8" y="512.87" font-size="7.9" text-anchor="end">50</text>
<line x1="373.4" y1="492.19" x2="376.6" y2="492.19" stroke="#1a1a1a" stroke-width="1.2"/>
<text x="369.8" y="495.03" font-size="7.9" text-anchor="end">75</text>
<line x1="373.4" y1="474.35" x2="376.6" y2="474.35" stroke="#1a1a1a" stroke-width="1.2"/>
<text x="369.8" y="477.19" font-size="7.9" text-anchor="end">100</text>
<line x1="376.6" y1="553.1" x2="376.6" y2="556.3" stroke="#1a1a1a" stroke-width="1.2"/>
<text x="376.6" y="566.74" font-size="7.9" text-anchor="middle">0</text>
<line x1="402.45" y1="553.1" x2="402.45" y2="556.3" stroke="#1a1a1a" stroke-width="1.2"/>
<text x="402.45" y="566.74" font-size="7.9" text-anchor="middle">1</text>
<line x1="428.3" y1="553.1" x2="428.3" y2="556.3" stroke="#1a1a1a" stroke-width="1.2"/>
<text x="428.3" y="566.74" font-size="7.9" text-anchor="middle">2</text>
<line x1="454.15" y1="553.1" x2="454.15" y2="556.3" stroke="#1a1a1a" stroke-width="1.2"/>
<text x="454.15" y="566.74" font-size="7.9" text-anchor="middle">3</text>
<line x1="480" y1="553.1" x2="480" y2="556.3" stroke="#1a1a1a" stroke-width="1.2"/>
<text x="480" y="566.74" font-size="7.9" text-anchor="middle">4</text>
<path d="M393.69 527.21 L395.13 526.36 L396.56 525.48 L398 524.55 L399.44 523.59 L400.88 522.6 L402.32 521.57 L403.76 520.5 L405.2 519.41 L406.63 518.29 L408.07 517.14 L409.51 515.97 L410.95 514.78 L412.39 513.57 L413.83 512.35 L415.27 511.12 L416.7 509.89 L418.14 508.66 L419.58 507.43 L421.02 506.21 L422.46 505.01 L423.9 503.81 L425.34 502.64 L426.77 501.49 L428.21 500.36 L429.65 499.26 L431.09 498.2 L432.53 497.16 L433.97 496.16 L435.4 495.2 L436.84 494.27 L438.28 493.38 L439.72 492.53 L441.16 491.72 L442.6 490.94 L444.04 490.21 L445.47 489.51 L446.91 488.85 L448.35 488.22 L449.79 487.63 L451.23 487.07 L452.67 486.55 L454.11 486.06 L455.54 485.6 L456.98 485.17 L458.42 484.76 L459.86 484.38 L461.3 484.03 L462.74 483.7 L464.18 483.39 L465.61 483.1 L467.05 482.84 L468.49 482.59 L469.93 482.36 L471.37 482.14 L472.81 481.94 L474.25 481.76 L475.68 481.59 L477.12 481.43 L478.56 481.28 L480 481.14" fill="none" stroke="#1a1a1a" stroke-width="1.5" stroke-linejoin="round"/>
<path d="M393.69 535.36 L395.13 534.84 L396.56 534.28 L398 533.7 L399.44 533.07 L400.88 532.42 L402.32 531.72 L403.76 531 L405.2 530.23 L406.63 529.43 L408.07 528.59 L409.51 527.71 L410.95 526.8 L412.39 525.85 L413.83 524.87 L415.27 523.86 L416.7 522.81 L418.14 521.74 L419.58 520.65 L421.02 519.53 L422.46 518.39 L423.9 517.23 L425.34 516.06 L426.77 514.88 L428.21 513.7 L429.65 512.51 L431.09 511.33 L432.53 510.15 L433.97 508.98 L435.4 507.83 L436.84 506.69 L438.28 505.57 L439.72 504.48 L441.16 503.41 L442.6 502.37 L444.04 501.36 L445.47 500.38 L446.91 499.44 L448.35 498.53 L449.79 497.65 L451.23 496.82 L452.67 496.02 L454.11 495.26 L455.54 494.53 L456.98 493.84 L458.42 493.19 L459.86 492.57 L461.3 491.99 L462.74 491.44 L464.18 490.92 L465.61 490.43 L467.05 489.97 L468.49 489.54 L469.93 489.14 L471.37 488.76 L472.81 488.41 L474.25 488.08 L475.68 487.77 L477.12 487.49 L478.56 487.22 L480 486.97" fill="none" stroke="#1a1a1a" stroke-width="1.5" stroke-linejoin="round"/>
<line x1="393.69" y1="533.35" x2="393.69" y2="537.35" stroke="#1a1a1a" stroke-width="1.0"/>
<line x1="391.79" y1="533.35" x2="395.59" y2="533.35" stroke="#1a1a1a" stroke-width="1.1"/>
<line x1="391.79" y1="537.35" x2="395.59" y2="537.35" stroke="#1a1a1a" stroke-width="1.1"/>
<line x1="406.02" y1="526.22" x2="406.02" y2="533.22" stroke="#1a1a1a" stroke-width="1.0"/>
<line x1="404.12" y1="526.22" x2="407.92" y2="526.22" stroke="#1a1a1a" stroke-width="1.1"/>
<line x1="404.12" y1="533.22" x2="407.92" y2="533.22" stroke="#1a1a1a" stroke-width="1.1"/>
<line x1="418.35" y1="517.66" x2="418.35" y2="525.66" stroke="#1a1a1a" stroke-width="1.0"/>
<line x1="416.45" y1="517.66" x2="420.25" y2="517.66" stroke="#1a1a1a" stroke-width="1.1"/>
<line x1="416.45" y1="525.66" x2="420.25" y2="525.66" stroke="#1a1a1a" stroke-width="1.1"/>
<line x1="430.68" y1="507.88" x2="430.68" y2="515.88" stroke="#1a1a1a" stroke-width="1.0"/>
<line x1="428.78" y1="507.88" x2="432.58" y2="507.88" stroke="#1a1a1a" stroke-width="1.1"/>
<line x1="428.78" y1="515.88" x2="432.58" y2="515.88" stroke="#1a1a1a" stroke-width="1.1"/>
<line x1="443.01" y1="498.18" x2="443.01" y2="505.18" stroke="#1a1a1a" stroke-width="1.0"/>
<line x1="441.11" y1="498.18" x2="444.91" y2="498.18" stroke="#1a1a1a" stroke-width="1.1"/>
<line x1="441.11" y1="505.18" x2="444.91" y2="505.18" stroke="#1a1a1a" stroke-width="1.1"/>
<line x1="455.34" y1="491.47" x2="455.34" y2="497.47" stroke="#1a1a1a" stroke-width="1.0"/>
<line x1="453.44" y1="491.47" x2="457.24" y2="491.47" stroke="#1a1a1a" stroke-width="1.1"/>
<line x1="453.44" y1="497.47" x2="457.24" y2="497.47" stroke="#1a1a1a" stroke-width="1.1"/>
<line x1="467.67" y1="488.12" x2="467.67" y2="493.12" stroke="#1a1a1a" stroke-width="1.0"/>
<line x1="465.77" y1="488.12" x2="469.57" y2="488.12" stroke="#1a1a1a" stroke-width="1.1"/>
<line x1="465.77" y1="493.12" x2="469.57" y2="493.12" stroke="#1a1a1a" stroke-width="1.1"/>
<line x1="480" y1="484.48" x2="480" y2="488.48" stroke="#1a1a1a" stroke-width="1.0"/>
<line x1="478.1" y1="484.48" x2="481.9" y2="484.48" stroke="#1a1a1a" stroke-width="1.1"/>
<line x1="478.1" y1="488.48" x2="481.9" y2="488.48" stroke="#1a1a1a" stroke-width="1.1"/>
<rect x="391.99" y="533.65" width="3.4" height="3.4" fill="#fff" stroke="#1a1a1a" stroke-width="1"/>
<circle cx="406.02" cy="529.72" r="1.9" fill="#fff" stroke="#1a1a1a" stroke-width="1.0"/>
<circle cx="418.35" cy="521.66" r="1.9" fill="#fff" stroke="#1a1a1a" stroke-width="1.0"/>
<circle cx="430.68" cy="511.88" r="1.9" fill="#fff" stroke="#1a1a1a" stroke-width="1.0"/>
<circle cx="443.01" cy="501.68" r="1.9" fill="#fff" stroke="#1a1a1a" stroke-width="1.0"/>
<circle cx="455.34" cy="494.47" r="1.9" fill="#fff" stroke="#1a1a1a" stroke-width="1.0"/>
<rect x="465.97" y="488.92" width="3.4" height="3.4" fill="#fff" stroke="#1a1a1a" stroke-width="1"/>
<rect x="478.3" y="484.78" width="3.4" height="3.4" fill="#fff" stroke="#1a1a1a" stroke-width="1"/>
<rect x="391.89" y="525.35" width="3.6" height="3.6" fill="#1a1a1a" stroke="#1a1a1a" stroke-width="1"/>
<rect x="404.22" y="517.14" width="3.6" height="3.6" fill="#1a1a1a" stroke="#1a1a1a" stroke-width="1"/>
<circle cx="418.35" cy="508.24" r="2" fill="#1a1a1a" stroke="#1a1a1a" stroke-width="1.0"/>
<circle cx="430.68" cy="498.82" r="2" fill="#1a1a1a" stroke="#1a1a1a" stroke-width="1.0"/>
<circle cx="443.01" cy="490.33" r="2" fill="#1a1a1a" stroke="#1a1a1a" stroke-width="1.0"/>
<circle cx="455.34" cy="485.77" r="2" fill="#1a1a1a" stroke="#1a1a1a" stroke-width="1.0"/>
<circle cx="467.67" cy="483.13" r="2" fill="#1a1a1a" stroke="#1a1a1a" stroke-width="1.0"/>
<circle cx="480" cy="480.84" r="2" fill="#1a1a1a" stroke="#1a1a1a" stroke-width="1.0"/>
<text x="312" y="579.4" font-size="10.8" textLength="101.5" lengthAdjust="spacingAndGlyphs" style="stroke-width:0.3px">Log10 concentration (nM)</text>
<circle cx="331.9" cy="592.8" r="3.1" fill="#1a1a1a" stroke="#1a1a1a" stroke-width="0.8"/>
<text x="339.6" y="595.9" font-size="8.6" textLength="27.7" lengthAdjust="spacingAndGlyphs"><tspan font-style="italic">CEBPA</tspan><tspan baseline-shift="3" font-size="5.2">bi</tspan></text>
<circle cx="383.5" cy="592.8" r="3.1" fill="#fff" stroke="#1a1a1a" stroke-width="1.15"/>
<text x="389.3" y="595.9" font-size="8.6" textLength="11.4" lengthAdjust="spacingAndGlyphs">NK</text>
</svg></body></html>
